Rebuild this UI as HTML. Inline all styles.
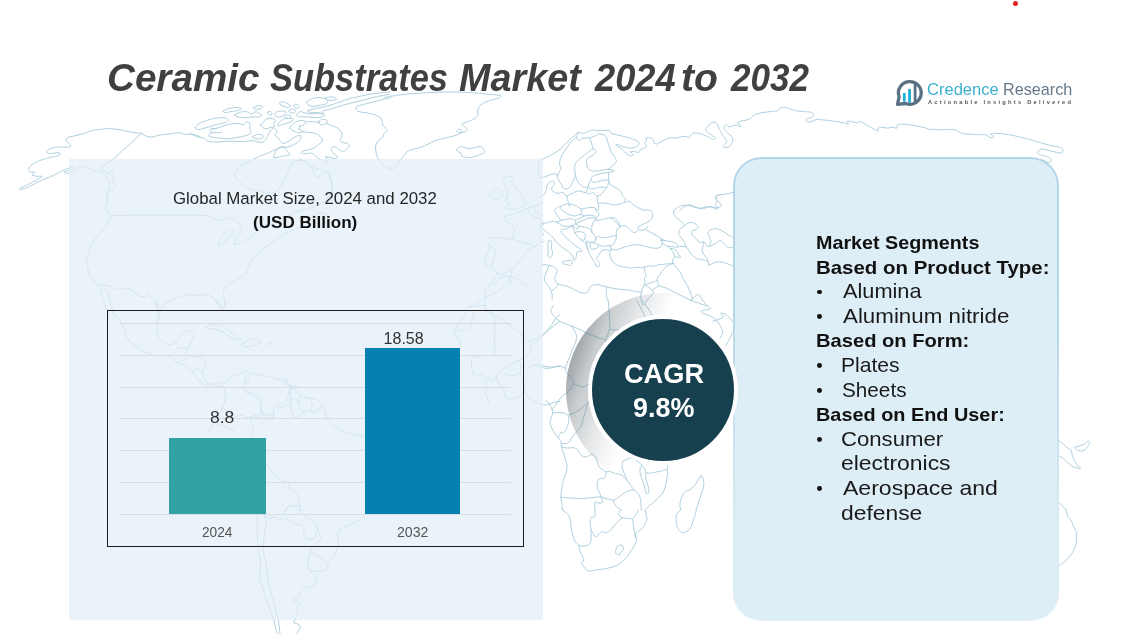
<!DOCTYPE html>
<html lang="en"><head><meta charset="utf-8"><title>Ceramic Substrates Market 2024 to 2032</title>
<style>
html,body{margin:0;padding:0;background:#fff}
body{width:1125px;height:634px;position:relative;overflow:hidden;font-family:"Liberation Sans",Arial,sans-serif}
.t{position:absolute;white-space:pre;transform-origin:0 0;display:block}
.abs{position:absolute}
#lp{left:68.5px;top:158.5px;width:474.5px;height:461.5px;background:rgba(226,239,247,0.72)}
#chart{left:107px;top:310px;width:414.6px;height:234.6px;border:1.2px solid #1e1e1e}
.gl{position:absolute;left:120px;width:390.5px;height:1px;background:#d9dee1}
#b1{left:169.2px;top:437.8px;width:96.4px;height:76.4px;background:#31a2a3}
#b2{left:364.8px;top:347.9px;width:94.8px;height:166.3px;background:#0580b2}
#rp{left:733.3px;top:157.7px;width:325.4px;height:463.3px;border-radius:28px;background:#deeef6;box-sizing:border-box}
#rpb{left:732.8px;top:157.2px;width:326.4px;height:464.3px;border-radius:28.5px;box-sizing:border-box;border:2px solid #b1d6e7;-webkit-mask-image:linear-gradient(to bottom,#000 0%,#000 30%,rgba(0,0,0,.55) 55%,rgba(0,0,0,.12) 80%,rgba(0,0,0,0) 95%);mask-image:linear-gradient(to bottom,#000 0%,#000 30%,rgba(0,0,0,.55) 55%,rgba(0,0,0,.12) 80%,rgba(0,0,0,0) 95%)}
#cres{left:566.4px;top:292.5px;width:194px;height:194px;border-radius:50%;background:linear-gradient(110deg,rgba(90,102,110,.62) 8%,rgba(90,102,110,.52) 13%,rgba(90,102,110,.33) 19%,rgba(90,102,110,.24) 25%,rgba(90,102,110,.15) 30%,rgba(90,102,110,.07) 36%,rgba(90,102,110,0) 42%)}
#circ{left:588.4px;top:314.5px;width:150px;height:150px;border-radius:50%;background:#17404f;border:4px solid #fff;box-sizing:border-box}
.bu{position:absolute;left:817.4px;width:4.8px;height:4.8px;border-radius:50%;background:#111}
#dot{left:1013.4px;top:0.8px;width:5px;height:5px;border-radius:50%;background:#e51c1c}
</style></head><body>
<svg class="abs" id="map" style="left:0;top:0" width="1125" height="634" viewBox="0 0 1125 634" fill="none" stroke="#a5c9da" stroke-width="0.9" stroke-linejoin="round" stroke-linecap="round">
<path d="M141.3 133.2C139.8 133.1 134.8 132.8 131.6 132.3C128.3 131.8 124.4 130.6 120.9 130.0C117.3 129.4 112.7 128.7 109.3 128.6C105.9 128.5 102.3 129.2 99.6 129.5C96.9 129.8 95.0 129.9 92.4 130.5C89.9 131.2 86.4 132.7 83.6 133.6C80.7 134.4 77.2 135.2 74.7 135.9C72.1 136.5 68.9 136.9 67.6 137.6C66.2 138.4 65.8 139.8 66.1 140.7C66.4 141.6 68.6 142.5 69.3 143.3C70.1 144.2 71.0 145.4 70.8 146.0C70.5 146.6 69.2 147.1 67.6 147.2C65.9 147.4 62.7 146.8 60.4 146.9C58.2 147.0 55.3 147.3 53.3 147.8C51.3 148.3 49.1 149.3 48.0 150.1C46.9 150.9 46.2 152.0 46.6 152.6C47.0 153.1 48.9 153.6 50.7 153.6C52.5 153.6 56.2 152.5 57.8 152.6C59.3 152.6 60.6 153.4 60.4 154.0C60.3 154.6 58.6 155.6 56.9 156.1C55.2 156.7 52.3 156.9 49.8 157.6C47.2 158.2 43.3 159.4 40.9 160.2C38.5 161.1 36.4 161.9 34.7 162.9C33.0 163.9 31.2 165.3 30.2 166.4C29.2 167.6 28.3 169.1 28.4 170.0C28.6 170.9 30.1 171.8 31.1 172.1C32.1 172.5 34.5 171.7 34.7 172.1C34.8 172.6 31.7 174.3 32.0 175.0C32.3 175.6 34.9 176.0 36.4 176.2C38.0 176.4 41.2 175.9 41.8 176.2C42.3 176.5 41.8 176.9 40.0 178.0C38.2 179.1 32.9 181.9 30.2 183.3C27.5 184.8 24.8 186.0 23.1 186.9C21.4 187.7 19.8 188.2 19.6 188.7C19.3 189.1 19.9 189.8 21.3 189.6C22.8 189.3 26.2 187.9 28.4 186.9C30.7 185.9 33.3 184.5 35.6 183.3C37.8 182.2 40.4 180.8 42.7 179.8C44.9 178.8 47.5 178.1 49.8 177.1C52.1 176.1 54.6 174.7 56.9 173.6C59.2 172.4 61.7 171.0 64.0 170.0C66.3 169.0 69.4 167.9 71.1 167.3C72.8 166.8 74.4 166.3 74.7 166.4C75.0 166.6 73.9 167.6 72.9 168.2C71.9 168.8 69.8 169.7 68.4 170.4C67.1 171.0 64.6 171.6 64.4 172.1C64.1 172.6 65.6 173.6 66.7 173.6C67.7 173.6 69.5 172.8 71.1 172.1C72.7 171.4 74.7 170.0 76.4 169.1C78.2 168.2 80.1 166.6 81.8 166.4C83.5 166.2 85.4 167.4 87.1 167.9C88.8 168.4 90.9 169.2 92.4 169.6C94.0 170.1 95.5 170.5 96.9 170.9C98.3 171.3 100.1 171.4 101.3 172.1C102.6 172.8 104.0 174.3 104.9 175.3C105.7 176.4 106.0 177.8 106.7 178.9C107.3 180.0 108.4 181.2 108.8 182.4C109.2 183.7 109.4 185.5 109.3 186.9C109.2 188.3 108.4 189.8 108.1 191.3C107.7 192.9 107.4 195.3 107.2 196.7C107.0 198.1 106.8 199.5 106.7 200.0 M141.3 133.2C140.6 133.9 138.7 135.9 136.9 137.6C135.0 139.4 132.1 142.2 129.8 144.2C127.5 146.3 125.2 148.2 122.7 150.4C120.1 152.7 116.3 156.3 113.8 158.4C111.2 160.6 108.7 162.2 106.7 163.8C104.6 165.3 101.7 167.2 101.0 168.2C100.3 169.3 101.6 169.8 102.2 170.4C102.8 170.9 104.0 170.9 104.9 171.4C105.7 171.9 106.7 173.4 107.6 173.6C108.4 173.7 109.4 172.6 110.2 172.1C111.1 171.7 112.3 170.7 112.9 170.9C113.5 171.1 113.9 172.3 113.8 173.6C113.7 174.8 112.4 177.5 112.4 178.9C112.4 180.3 113.3 181.2 113.8 182.4C114.2 183.7 115.5 185.7 115.2 186.9C114.9 188.1 112.9 189.1 112.0 189.9C111.1 190.7 109.8 191.4 109.3 191.7 M141.3 133.2C142.0 133.6 144.1 135.2 145.8 135.9C147.5 136.5 150.0 137.2 152.0 137.1C154.0 137.0 156.1 135.8 158.2 135.3C160.4 134.9 163.1 134.7 165.3 134.4C167.6 134.2 170.2 133.8 172.4 133.6C174.7 133.3 177.6 132.5 179.6 132.7C181.5 132.8 182.9 134.2 184.9 134.4C186.9 134.7 189.6 133.7 192.0 134.1C194.4 134.4 198.7 136.2 200.0 136.6 M195.3 127.3C195.9 126.8 197.2 124.9 198.9 123.8C200.6 122.7 203.4 121.4 206.0 120.6C208.6 119.7 212.0 118.9 214.9 118.4C217.7 118.0 221.6 117.4 223.8 117.6C225.9 117.7 227.8 118.6 228.2 119.3C228.6 120.0 227.7 121.3 226.4 122.0C225.2 122.7 222.4 123.2 220.2 123.8C218.1 124.3 215.4 124.9 213.1 125.6C210.8 126.2 208.1 127.1 206.0 127.7C203.9 128.3 201.3 129.2 199.8 129.5C198.2 129.7 196.9 129.5 196.2 129.1C195.5 128.8 195.5 127.6 195.3 127.3 M208.7 135.3C209.1 134.9 211.0 133.5 211.3 132.7C211.6 131.8 209.6 130.7 210.4 130.0C211.3 129.3 214.5 128.9 216.7 128.2C218.8 127.5 221.5 126.2 223.8 125.6C226.1 124.9 228.6 124.5 230.9 124.1C233.2 123.8 236.0 123.3 238.0 123.4C240.0 123.5 241.9 124.9 243.3 124.7C244.8 124.4 245.8 122.1 246.9 122.0C248.0 121.9 249.7 122.8 250.1 123.8C250.5 124.8 249.4 126.8 249.6 128.2C249.8 129.6 251.8 131.5 251.3 132.7C250.9 133.8 248.5 134.7 246.9 135.3C245.3 136.0 243.5 136.2 241.6 136.6C239.6 137.0 236.7 137.6 234.4 138.0C232.2 138.4 229.6 138.9 227.3 138.9C225.1 138.9 222.2 138.2 220.2 138.0C218.2 137.8 216.6 137.9 214.9 137.6C213.2 137.4 210.6 136.9 209.6 136.6C208.6 136.2 208.8 135.5 208.7 135.3 M211.0 128.2 L216.7 128.6 M210.4 132.7 L221.1 132.7 M190.0 133.6C191.1 134.0 194.8 135.8 197.1 136.6C199.4 137.3 202.4 137.6 204.2 138.4C206.1 139.2 206.7 141.0 208.7 141.6C210.7 142.1 214.0 141.9 216.7 141.9C219.4 141.9 222.7 141.7 225.6 141.6C228.4 141.4 231.6 141.2 234.4 141.2C237.3 141.2 240.5 141.6 243.3 141.6C246.2 141.5 249.4 140.5 252.2 140.7C255.1 140.8 259.0 142.6 261.1 142.4C263.2 142.3 264.4 141.1 265.6 139.8C266.7 138.5 267.4 136.0 268.2 134.4C269.1 132.9 269.9 131.0 270.9 130.0C271.9 129.0 273.4 127.9 274.4 128.2C275.4 128.5 277.0 130.6 277.1 131.8C277.3 132.9 275.0 134.2 275.3 135.3C275.6 136.5 277.8 137.6 278.9 138.9C280.0 140.2 281.0 142.9 282.4 143.3C283.9 143.8 285.8 142.6 287.8 141.6C289.8 140.6 293.0 138.1 294.9 137.1C296.7 136.1 298.3 135.3 299.3 135.3C300.3 135.3 301.3 136.1 301.1 137.1C301.0 138.1 299.7 140.3 298.4 141.6C297.2 142.8 295.0 144.2 293.1 145.1C291.3 146.0 288.9 146.9 286.9 147.2C284.9 147.6 282.5 146.9 280.7 147.2C278.8 147.6 277.0 148.8 275.3 149.6C273.6 150.4 271.7 151.5 270.0 152.2C268.3 153.0 266.7 153.6 264.7 154.4C262.7 155.2 259.8 156.2 257.6 157.2C255.3 158.2 252.7 159.6 250.4 160.8C248.2 161.9 245.4 163.1 243.3 164.3C241.3 165.6 239.1 167.1 237.6 168.6C236.2 170.1 234.7 172.0 234.4 173.6C234.2 175.1 235.2 176.6 236.2 178.0C237.2 179.4 239.2 181.0 240.7 182.4C242.1 183.9 243.3 185.8 245.1 186.9C247.0 188.0 249.7 188.8 252.2 189.6C254.8 190.3 258.6 190.8 261.1 191.3C263.7 191.9 265.9 193.0 268.2 193.1C270.5 193.3 273.5 193.1 275.3 192.2C277.2 191.4 278.5 189.3 279.8 187.8C281.1 186.2 282.3 184.2 283.3 182.4C284.3 180.7 285.1 178.8 286.0 177.1C286.9 175.4 288.0 173.5 288.7 171.8C289.4 170.1 289.7 168.0 290.4 166.4C291.2 164.9 291.8 163.0 293.1 162.0C294.4 161.0 296.5 160.4 298.4 160.2C300.4 160.1 303.8 160.4 305.6 161.1C307.3 161.8 308.0 163.2 309.1 164.7C310.2 166.1 311.8 168.4 312.7 170.0C313.5 171.6 313.6 173.3 314.4 174.4C315.3 175.6 316.7 177.0 318.0 177.1C319.3 177.3 321.3 176.2 322.4 175.3C323.6 174.5 324.1 172.5 325.1 171.8C326.1 171.1 327.8 170.3 328.7 170.9C329.5 171.5 330.0 173.5 330.4 175.3C330.9 177.2 331.0 180.5 331.3 182.4C331.6 184.4 331.8 186.1 332.2 187.8C332.6 189.5 333.4 191.1 334.0 193.1C334.6 195.1 335.5 198.9 335.8 200.0 M252.6 136.6C253.4 136.2 255.9 134.6 257.6 134.4C259.2 134.2 262.0 134.8 262.9 135.3C263.8 135.8 264.0 137.1 263.2 137.6C262.5 138.2 260.0 138.8 258.4 138.9C256.9 139.0 254.6 138.7 253.6 138.4C252.7 138.0 252.7 136.9 252.6 136.6 M222.9 111.0C223.7 110.6 226.1 109.2 228.2 108.7C230.4 108.1 234.1 107.5 236.2 107.4C238.3 107.4 240.9 108.0 241.2 108.5C241.5 109.0 239.6 109.9 238.0 110.4C236.4 111.0 233.0 111.3 230.9 111.7C228.8 112.0 225.9 112.7 224.7 112.6C223.4 112.5 223.2 111.2 222.9 111.0 M234.4 114.9C235.3 114.5 237.8 112.7 239.8 112.2C241.8 111.7 245.0 111.4 246.9 111.7C248.7 112.0 249.9 114.0 251.3 114.0C252.8 114.0 254.6 111.8 255.8 111.7C256.9 111.5 257.4 112.6 258.4 113.1C259.4 113.6 261.9 114.3 262.0 114.9C262.1 115.5 260.9 116.7 259.3 117.0C257.8 117.4 254.5 116.9 252.2 117.0C249.9 117.1 247.4 117.6 245.1 117.6C242.8 117.6 239.7 117.4 238.0 117.0C236.3 116.6 235.0 115.2 234.4 114.9 M253.6 107.8C254.1 107.5 255.5 106.3 256.7 106.0C257.9 105.7 260.2 105.4 261.1 105.6C262.0 105.9 262.8 106.9 262.5 107.4C262.2 108.0 260.6 108.7 259.3 109.0C258.1 109.3 255.8 109.4 254.9 109.2C254.0 109.0 253.8 108.0 253.6 107.8 M267.7 112.2C268.1 112.1 269.3 111.2 270.0 111.3C270.7 111.5 272.0 112.5 272.1 113.1C272.3 113.7 271.5 114.7 270.9 114.9C270.3 115.0 268.7 114.4 268.2 114.0C267.7 113.6 267.8 112.5 267.7 112.2 M274.8 114.0C275.2 113.6 275.9 112.2 277.1 111.7C278.3 111.2 281.0 110.9 282.4 111.0C283.9 111.1 285.7 111.6 286.0 112.2C286.3 112.8 285.2 114.1 284.2 114.9C283.2 115.7 281.1 116.7 279.8 117.0C278.5 117.3 277.0 117.2 276.2 116.7C275.4 116.2 275.0 114.4 274.8 114.0 M279.8 102.8C280.2 102.6 281.3 101.5 282.4 101.6C283.6 101.6 285.6 102.7 286.9 103.3C288.2 104.0 290.2 104.9 290.4 105.6C290.7 106.4 289.7 107.7 288.7 107.8C287.7 107.9 285.5 106.8 284.2 106.4C282.9 105.9 281.4 105.7 280.7 105.1C280.0 104.5 279.9 103.2 279.8 102.8 M293.5 105.6C293.8 105.4 294.9 104.2 295.8 104.2C296.6 104.2 298.4 105.1 298.8 105.6C299.2 106.2 299.0 107.4 298.4 107.8C297.9 108.1 296.0 108.1 295.2 107.8C294.4 107.4 293.8 106.0 293.5 105.6 M289.0 111.0C289.5 110.7 291.1 109.3 292.2 109.2C293.3 109.1 295.5 109.9 295.8 110.4C296.1 111.0 294.9 112.4 294.0 112.8C293.1 113.1 291.2 113.0 290.4 112.8C289.6 112.5 289.2 111.3 289.0 111.0 M284.6 116.7C285.0 116.4 286.4 114.9 287.4 114.9C288.4 114.8 290.6 115.7 291.0 116.3C291.3 116.9 290.4 118.1 289.6 118.4C288.8 118.8 286.8 118.7 286.0 118.4C285.2 118.2 284.8 117.0 284.6 116.7 M260.2 124.7C260.8 124.2 262.8 122.9 263.8 122.0C264.8 121.1 265.2 119.4 266.4 118.8C267.7 118.2 270.4 118.2 271.8 118.4C273.2 118.7 275.0 119.4 275.3 120.2C275.6 121.1 273.6 122.8 273.6 123.8C273.5 124.8 275.4 125.9 275.0 126.4C274.6 127.0 272.3 127.0 270.9 127.3C269.5 127.7 267.7 128.7 266.4 128.8C265.2 128.8 263.9 128.3 262.9 127.7C261.9 127.0 260.6 125.2 260.2 124.7 M277.5 124.7C278.0 124.1 279.3 122.1 280.7 121.1C282.0 120.1 284.2 118.8 286.0 118.4C287.8 118.1 291.1 118.5 292.2 118.8C293.4 119.1 293.8 119.9 293.1 120.6C292.4 121.2 289.5 122.2 287.8 122.9C286.1 123.5 283.9 124.2 282.4 124.7C281.0 125.1 279.7 125.6 278.9 125.6C278.1 125.6 277.7 124.8 277.5 124.7 M306.4 102.4C307.2 101.9 309.0 100.0 310.9 99.2C312.7 98.4 315.7 97.5 318.0 97.5C320.3 97.4 323.5 98.2 325.1 98.9C326.7 99.5 327.8 100.7 327.8 101.6C327.8 102.4 326.7 103.6 325.1 104.2C323.5 104.9 320.0 105.3 318.0 105.6C316.0 106.0 314.2 106.4 312.7 106.4C311.1 106.3 309.2 105.7 308.2 105.1C307.2 104.5 306.7 102.9 306.4 102.4 M325.1 98.0C326.2 97.8 330.4 96.6 332.2 96.8C334.1 96.9 336.7 98.3 336.7 98.9C336.7 99.5 333.8 100.2 332.2 100.3C330.7 100.5 328.0 100.1 326.9 99.8C325.8 99.4 325.4 98.3 325.1 98.0 M308.2 110.4C309.2 110.2 312.3 109.2 314.4 108.7C316.6 108.2 319.0 108.0 321.6 107.4C324.1 106.9 327.3 106.0 330.4 105.1C333.6 104.2 338.0 102.6 341.1 101.6C344.2 100.5 346.9 99.4 350.0 98.5C353.1 97.7 357.3 97.0 360.7 96.2C364.1 95.5 367.9 94.5 371.3 93.9C374.7 93.3 379.0 93.0 382.0 92.7C385.0 92.3 388.7 91.9 390.0 91.8 M308.2 110.4C308.4 110.7 307.5 111.9 309.1 112.2C310.7 112.6 315.7 112.5 318.0 112.8C320.3 113.0 322.6 114.2 323.3 114.0C324.0 113.8 321.6 112.0 322.4 111.3C323.3 110.6 326.2 110.3 328.7 109.6C331.1 108.8 334.7 107.7 337.6 106.9C340.4 106.0 343.6 105.0 346.4 104.2C349.3 103.5 352.5 102.8 355.3 102.1C358.2 101.4 361.1 100.6 364.2 99.8C367.4 99.0 371.5 97.9 374.9 97.1C378.3 96.3 383.1 95.4 385.6 95.0C388.0 94.6 389.3 94.5 390.0 94.4 M296.3 114.9C296.9 114.4 298.7 112.0 300.2 111.7C301.7 111.4 303.6 112.7 305.6 113.1C307.5 113.5 310.4 114.0 312.7 114.0C314.9 114.0 317.9 113.0 319.8 113.1C321.6 113.3 323.9 114.3 324.2 114.9C324.5 115.5 323.1 116.6 321.6 117.0C320.0 117.4 317.0 117.6 314.4 117.6C311.9 117.5 308.0 116.8 305.6 116.7C303.1 116.5 300.8 117.0 299.3 116.7C297.9 116.4 296.8 115.2 296.3 114.9 M289.6 128.2C290.0 127.7 291.1 125.7 292.2 124.7C293.4 123.6 295.1 122.4 296.7 121.6C298.2 120.9 300.6 120.2 302.0 120.2C303.4 120.3 305.3 121.3 305.6 122.0C305.8 122.7 304.6 124.0 303.8 124.7C302.9 125.4 300.9 125.7 300.2 126.4C299.5 127.2 298.8 128.3 299.3 129.1C299.9 130.0 301.9 131.2 303.8 131.8C305.6 132.3 308.9 132.4 310.9 132.7C312.9 133.0 314.7 132.8 316.2 133.6C317.8 134.3 319.7 136.0 320.7 137.1C321.7 138.2 322.7 139.5 322.4 140.7C322.2 141.8 320.2 143.1 318.9 144.2C317.6 145.4 316.0 146.9 314.4 147.8C312.9 148.6 310.8 149.1 309.1 149.6C307.4 150.0 305.1 150.3 303.8 150.8C302.5 151.3 301.0 152.1 301.1 152.6C301.3 153.1 303.1 153.9 304.7 154.0C306.2 154.1 309.3 153.0 310.9 153.1C312.5 153.3 313.3 154.0 314.4 154.9C315.6 155.7 316.7 157.6 318.0 158.4C319.3 159.3 321.0 159.5 322.4 160.2C323.9 160.9 326.3 163.2 326.9 162.9C327.5 162.6 325.9 159.4 326.0 158.4C326.1 157.5 327.5 157.4 327.8 157.2 M289.6 128.2C290.3 128.7 292.4 130.5 294.0 131.2C295.6 132.0 297.8 132.6 299.3 132.7C300.9 132.8 303.1 131.9 303.8 131.8 M299.9 124.7 L299.3 129.1 M318.9 121.1C319.5 120.8 321.2 119.4 322.4 119.3C323.7 119.2 326.2 119.9 326.9 120.6C327.5 121.2 327.2 122.8 326.5 123.4C325.8 124.1 323.6 124.6 322.4 124.7C321.3 124.7 320.0 124.3 319.4 123.8C318.9 123.2 319.0 121.5 318.9 121.1 M305.6 122.0C306.7 121.9 310.5 121.6 312.7 121.6C314.8 121.7 317.9 122.2 318.9 122.4 M326.9 123.8C327.7 124.1 330.5 124.8 332.2 125.6C333.9 126.3 336.1 127.2 337.6 128.2C339.0 129.2 340.4 130.5 341.1 131.8C341.8 133.1 342.1 134.9 342.0 136.2C341.9 137.5 340.1 138.8 340.2 139.8C340.4 140.8 341.8 141.9 342.9 142.4C344.0 143.0 346.3 142.8 347.3 143.3C348.3 143.9 349.3 145.0 349.1 146.0C349.0 147.0 347.4 148.7 346.4 149.6C345.4 150.4 344.0 151.3 342.9 151.3C341.8 151.3 340.5 150.3 339.3 149.6C338.2 148.8 336.9 147.3 335.8 146.9C334.6 146.5 332.9 146.7 332.2 147.2C331.5 147.8 331.0 149.4 331.3 150.4C331.6 151.5 333.0 153.0 334.0 154.0C335.0 155.0 337.3 156.0 337.6 156.7C337.8 157.4 336.9 158.3 335.8 158.4C334.6 158.6 332.2 157.8 330.4 157.6C328.7 157.3 326.0 156.8 325.1 156.7 M273.6 157.6C273.8 156.7 274.5 153.8 275.3 152.2C276.2 150.7 277.5 148.6 278.9 147.8C280.3 146.9 282.9 146.5 284.2 146.9C285.5 147.3 286.0 149.2 286.9 150.4C287.7 151.7 290.3 154.0 289.6 154.9C288.8 155.8 284.4 155.7 282.4 156.1C280.5 156.6 278.5 157.3 277.1 157.6C275.7 157.8 274.1 157.6 273.6 157.6 M390.0 98.0C388.7 98.3 384.7 99.1 382.0 99.8C379.3 100.4 376.0 101.4 373.1 102.1C370.3 102.8 366.9 103.5 364.2 104.2C361.5 105.0 357.2 105.8 356.2 106.9C355.2 108.0 356.4 110.4 358.0 111.3C359.6 112.3 363.3 112.2 366.0 112.8C368.7 113.3 372.5 114.0 374.9 114.9C377.3 115.8 379.8 116.9 381.1 118.4C382.4 120.0 382.2 123.1 382.9 124.7C383.6 126.2 384.8 127.2 385.6 128.2C386.3 129.2 387.6 130.0 387.3 130.9C387.0 131.7 384.5 132.6 383.8 133.6C383.1 134.6 383.7 136.0 382.9 137.1C382.0 138.2 379.6 139.4 378.4 140.7C377.3 141.9 376.2 143.4 375.8 145.1C375.4 146.8 375.5 149.3 375.8 151.3C376.1 153.3 376.7 155.7 377.6 157.6C378.4 159.4 379.8 161.5 381.1 162.9C382.4 164.3 384.1 165.4 385.6 166.4C387.0 167.4 389.3 168.7 390.0 169.1 M383.6 97.8C384.7 97.6 387.7 96.9 390.7 96.4C393.6 95.9 398.3 95.1 402.0 94.6C405.8 94.2 409.8 93.9 414.0 93.6C418.1 93.2 423.5 92.9 428.0 92.7C432.5 92.4 436.9 92.2 442.0 92.1C447.2 92.0 454.3 92.0 460.0 92.1C465.7 92.3 472.9 92.8 477.8 93.2C482.6 93.6 486.5 94.0 490.2 94.4C493.9 94.8 499.5 95.1 500.9 95.7C502.3 96.3 500.5 97.3 499.1 98.0C497.7 98.7 494.3 99.1 492.0 99.8C489.7 100.5 486.9 101.4 484.9 102.4C482.9 103.4 480.6 105.0 479.6 106.0C478.6 107.0 479.0 107.8 478.7 108.7C478.3 109.5 477.5 110.3 477.4 111.3C477.3 112.3 478.5 113.8 478.1 114.9C477.8 116.0 476.6 117.4 475.1 118.4C473.6 119.4 470.7 120.4 468.9 121.1C467.0 121.8 464.7 122.3 463.6 122.9C462.4 123.5 461.5 124.0 461.8 124.7C462.1 125.4 464.5 126.5 465.3 127.3C466.2 128.2 467.4 129.2 467.1 130.0C466.8 130.8 465.0 131.9 463.6 132.3C462.1 132.7 459.3 132.6 458.2 132.3C457.1 132.0 456.7 131.0 456.8 130.5C456.9 130.0 458.3 128.9 459.1 129.1C460.0 129.3 462.3 130.9 462.1 131.8C462.0 132.6 460.0 133.7 458.2 134.4C456.5 135.2 453.7 135.9 451.1 136.6C448.6 137.3 444.8 138.2 442.2 138.9C439.7 139.5 437.4 139.8 435.1 140.7C432.8 141.5 430.3 143.2 428.0 144.2C425.7 145.3 422.9 146.5 420.9 147.2C418.9 148.0 417.3 148.2 415.6 148.7C413.8 149.1 411.6 149.5 410.2 150.1C408.8 150.7 407.8 151.2 406.7 152.2C405.5 153.3 404.2 155.2 403.1 156.7C402.0 158.1 400.6 159.7 399.6 161.1C398.6 162.5 397.9 164.4 396.9 165.6C395.9 166.8 394.6 168.3 393.3 168.6C392.1 168.9 389.6 167.5 388.9 167.3 M456.4 149.6C456.9 149.2 458.0 147.7 459.1 147.2C460.2 146.8 462.1 146.7 463.6 146.9C465.0 147.1 466.3 148.5 468.0 148.7C469.7 148.8 472.2 148.1 474.2 147.8C476.2 147.4 479.0 146.4 480.4 146.5C481.9 146.7 482.5 147.8 483.1 148.7C483.8 149.5 484.8 151.0 484.5 151.9C484.2 152.8 482.7 153.7 481.3 154.4C480.0 155.0 477.7 155.6 476.0 156.1C474.3 156.6 472.4 157.4 470.7 157.6C469.0 157.7 466.8 157.4 465.3 157.2C463.9 157.0 462.5 156.8 461.8 156.1C461.1 155.5 461.5 153.8 460.9 153.1C460.3 152.4 458.9 152.4 458.2 151.9C457.5 151.3 456.7 149.9 456.4 149.6 M540.0 160.2C539.8 160.9 539.0 163.1 538.8 164.7C538.5 166.2 538.0 168.3 538.2 170.0C538.4 171.7 539.6 174.1 540.0 175.3C540.4 176.5 540.7 177.1 540.9 177.5 M504.4 178.0C504.9 177.7 506.1 176.4 507.1 176.2C508.1 176.0 509.8 176.3 510.7 176.8C511.5 177.2 512.4 178.1 512.4 178.9C512.4 179.7 510.5 180.8 510.7 181.6C510.8 182.3 512.6 182.5 513.3 183.3C514.0 184.2 514.4 185.9 515.1 186.9C515.8 187.9 517.1 188.6 517.8 189.6C518.5 190.6 518.8 192.0 519.6 193.1C520.3 194.2 521.5 195.6 522.2 196.7C522.9 197.8 523.7 199.5 524.0 200.0 M504.4 178.0C504.3 178.6 503.4 180.6 503.6 181.6C503.7 182.6 505.2 183.2 505.3 184.2C505.5 185.2 504.2 186.8 504.4 187.8C504.7 188.8 506.5 189.4 507.1 190.4C507.7 191.4 508.1 193.0 508.0 194.0C507.9 195.0 506.1 195.7 506.2 196.7C506.4 197.6 508.5 199.5 508.9 200.0 M493.8 189.6C494.3 189.4 496.2 188.5 497.3 188.7C498.5 188.8 500.0 189.7 500.9 190.4C501.7 191.2 502.5 192.1 502.7 193.1C502.8 194.1 502.3 195.8 501.8 196.7C501.2 197.6 500.1 198.4 499.1 198.8C498.1 199.2 496.8 199.5 495.6 199.3C494.3 199.1 492.1 198.3 491.1 197.6C490.1 196.8 489.3 195.7 489.3 194.9C489.3 194.0 490.4 193.1 491.1 192.2C491.8 191.4 493.4 190.0 493.8 189.6 M540.0 160.4C541.1 159.9 544.8 158.0 547.1 156.9C549.4 155.8 551.9 154.8 554.2 153.3C556.5 151.9 559.1 150.0 561.3 148.0C563.6 146.0 566.2 143.0 568.4 140.9C570.7 138.8 574.0 136.0 575.6 134.7C577.1 133.3 577.1 132.6 578.2 132.4C579.4 132.2 581.1 133.5 582.7 133.4C584.2 133.3 586.4 132.2 588.0 131.6C589.6 131.1 590.7 130.0 592.4 129.9C594.2 129.7 596.7 130.5 598.7 130.6C600.7 130.6 603.0 130.1 604.9 130.2C606.7 130.3 609.2 130.6 610.2 131.1C611.2 131.6 610.1 132.9 611.1 133.4C612.1 134.0 614.5 134.2 616.4 134.7C618.4 135.2 621.3 135.9 623.6 136.4C625.8 137.0 628.7 137.6 630.7 138.2C632.7 138.9 634.6 139.8 636.0 140.5C637.4 141.2 638.9 141.8 639.2 142.7C639.5 143.5 638.6 145.1 637.8 145.9C637.0 146.7 635.6 147.3 634.2 147.6C632.8 148.0 630.7 148.2 628.9 148.0C627.0 147.8 624.4 147.1 622.7 146.6C621.0 146.1 619.4 145.1 618.2 144.8C617.1 144.5 615.6 144.5 615.6 144.8C615.6 145.1 617.2 145.9 618.2 146.6C619.2 147.2 620.8 148.1 621.8 148.9C622.8 149.7 623.6 150.7 624.4 151.6C625.3 152.4 626.1 153.5 627.1 154.2C628.1 154.9 629.7 156.0 630.7 156.0C631.7 156.0 633.5 154.9 633.3 154.2C633.2 153.6 629.6 152.3 629.8 151.9C629.9 151.5 632.8 151.5 634.2 151.6C635.6 151.6 637.7 152.7 638.7 152.4C639.7 152.2 639.6 150.4 640.4 149.8C641.3 149.1 643.0 148.9 644.0 148.4C645.0 147.8 646.5 147.3 646.7 146.6C646.8 145.8 644.9 144.6 644.9 143.6C644.9 142.5 646.5 140.9 646.7 140.0C646.8 139.1 645.4 138.6 645.8 138.2C646.2 137.9 648.2 137.5 649.3 137.7C650.5 137.8 652.2 138.3 652.9 139.1C653.6 139.9 653.2 141.9 653.8 142.7C654.3 143.5 655.4 144.1 656.4 144.1C657.4 144.0 658.7 143.0 660.0 142.3C661.3 141.7 662.9 140.7 664.4 140.0C666.0 139.3 668.1 138.0 669.8 137.7C671.5 137.4 673.4 138.3 675.1 138.2C676.8 138.1 678.7 137.3 680.4 137.0C682.2 136.7 684.4 136.3 685.8 136.4C687.2 136.6 688.5 138.0 689.3 137.7C690.2 137.4 690.3 135.4 691.1 134.7C692.0 133.9 693.2 133.0 694.7 132.9C696.1 132.7 698.3 133.4 700.0 133.8C701.7 134.2 703.6 134.8 705.3 135.6C707.0 136.3 709.4 137.6 710.7 138.2C711.9 138.8 712.6 139.6 713.3 139.5C714.0 139.4 715.4 138.4 715.1 137.7C714.8 137.0 712.8 136.1 711.6 135.2C710.3 134.3 708.1 132.9 707.1 132.0C706.1 131.1 705.2 130.2 705.3 129.3C705.5 128.5 707.1 127.7 708.0 126.7C708.9 125.7 709.5 123.8 710.7 123.1C711.8 122.4 714.0 121.9 715.1 122.2C716.2 122.5 717.2 124.0 717.8 124.9C718.3 125.8 718.2 127.1 718.7 128.1C719.1 129.1 719.9 130.1 720.4 131.1C721.0 132.2 721.5 133.5 722.2 134.7C722.9 135.8 724.2 137.1 724.9 138.2C725.6 139.4 726.7 140.8 726.7 141.8C726.7 142.8 725.5 143.7 724.9 144.4C724.3 145.2 723.0 146.1 723.1 146.6C723.3 147.1 724.8 147.6 725.8 147.6C726.8 147.6 728.3 147.4 729.3 146.6C730.3 145.8 731.4 143.9 732.0 142.7C732.6 141.4 733.0 139.9 732.9 138.8C732.7 137.6 731.8 136.4 731.1 135.6C730.4 134.8 729.3 134.5 728.4 133.8C727.6 133.1 726.5 132.1 725.8 131.1C725.1 130.1 724.0 128.6 724.0 127.6C724.0 126.5 725.1 124.7 725.8 124.5C726.5 124.4 727.4 126.4 728.4 126.7C729.4 127.0 730.9 126.5 732.0 126.3C733.1 126.1 734.3 125.2 735.6 125.2C736.8 125.2 739.3 126.1 740.0 126.3 M578.2 132.4C577.9 133.0 577.6 134.9 576.4 136.4C575.3 138.0 572.7 139.9 571.1 141.8C569.5 143.6 567.9 146.2 566.7 148.0C565.4 149.8 564.1 151.6 563.1 153.3C562.1 155.0 561.0 157.0 560.4 158.7C559.9 160.4 559.5 162.4 559.6 164.0C559.6 165.6 561.1 167.0 561.0 168.4C560.8 169.9 559.2 171.6 558.7 172.9C558.1 174.2 557.4 175.2 557.4 176.4C557.4 177.6 558.0 179.1 558.7 180.4C559.3 181.6 560.6 183.2 561.3 184.4C562.0 185.7 562.3 187.3 563.1 188.0C564.0 188.7 565.5 189.1 566.7 188.9C567.8 188.7 569.4 187.6 570.2 186.8C571.1 185.9 571.4 184.8 572.0 183.6C572.6 182.3 573.3 180.4 573.8 179.1C574.3 177.8 575.1 177.5 575.2 175.6C575.3 173.6 574.5 168.8 574.7 166.7C574.9 164.5 575.6 163.5 576.4 162.2C577.3 160.9 578.7 159.8 580.0 158.7C581.3 157.5 583.0 156.2 584.4 155.1C585.9 154.0 587.5 152.6 588.9 151.6C590.3 150.6 592.2 148.9 593.3 148.9C594.5 148.9 596.0 150.6 596.0 151.6C596.0 152.6 594.5 154.2 593.3 155.1C592.2 156.0 590.0 156.4 588.9 157.2C587.8 158.1 586.9 159.2 586.6 160.4C586.2 161.7 586.4 163.6 586.6 164.9C586.8 166.2 587.2 167.5 588.0 168.4C588.8 169.4 590.1 170.3 591.6 170.8C593.0 171.2 595.2 171.2 596.9 171.1C598.6 171.0 600.5 170.5 602.2 170.2C603.9 169.9 605.8 169.3 607.6 169.3C609.3 169.3 611.9 169.9 612.9 170.2C613.9 170.6 614.5 171.1 613.8 171.5C613.1 171.8 610.3 172.2 608.4 172.5C606.6 172.8 604.1 172.9 602.2 173.2C600.4 173.6 598.5 174.2 596.9 174.7C595.3 175.2 593.4 175.6 592.4 176.4C591.4 177.3 591.2 178.9 590.7 180.0C590.1 181.1 589.3 182.4 588.9 183.6C588.5 184.7 588.4 186.0 588.0 187.1C587.6 188.2 587.0 189.8 586.6 190.7C586.2 191.5 586.7 192.4 585.3 192.4C584.0 192.5 580.4 190.9 578.2 191.0C576.1 191.2 573.8 192.5 572.0 193.3C570.2 194.1 568.1 196.1 566.7 196.0C565.2 195.9 564.5 192.9 563.1 192.4C561.7 192.0 559.3 193.5 557.8 193.3C556.2 193.2 554.3 192.4 553.3 191.6C552.3 190.7 551.4 189.1 551.6 188.0C551.7 186.9 553.9 185.6 554.2 184.4C554.5 183.3 554.0 181.3 553.3 180.9C552.6 180.5 550.8 181.1 549.8 181.8C548.8 182.5 547.7 183.9 547.1 185.3C546.5 186.8 546.8 189.1 546.2 190.7C545.7 192.2 544.6 194.1 543.6 195.1C542.6 196.1 540.6 196.6 540.0 196.9 M575.2 175.6C575.4 176.0 576.0 177.2 576.4 178.2C576.9 179.3 577.5 181.0 578.2 182.1C578.9 183.3 579.9 184.5 580.9 185.3C581.9 186.2 583.4 187.2 584.4 187.5C585.4 187.7 586.7 186.9 587.1 186.8 M540.0 178.2C540.9 178.0 543.6 177.4 545.3 176.8C547.0 176.2 549.0 175.2 550.7 174.7C552.4 174.2 554.9 173.5 556.0 173.8C557.1 174.1 557.2 176.0 557.4 176.4 M582.7 138.2C583.8 138.1 587.6 138.1 589.8 137.7C591.9 137.3 594.6 136.2 596.0 135.6C597.4 134.9 597.8 134.0 598.7 133.8C599.5 133.6 600.3 133.9 601.3 134.1C602.3 134.4 604.0 134.5 604.9 135.2C605.7 135.9 606.2 137.2 606.7 138.2C607.1 139.3 607.1 140.5 607.6 141.8C608.0 143.1 608.8 144.7 609.3 146.2C609.9 147.8 610.4 150.0 611.1 151.6C611.8 153.1 612.9 154.6 613.8 156.0C614.6 157.4 616.3 159.2 616.4 160.4C616.6 161.7 615.5 162.9 614.7 164.0C613.8 165.1 612.1 166.3 611.1 167.2C610.1 168.1 608.9 169.0 608.4 169.3 M589.8 137.7C590.1 138.6 591.0 141.8 591.6 143.6C592.1 145.3 593.0 148.0 593.3 148.9 M582.7 138.2C582.0 138.6 579.2 140.8 578.2 140.5C577.2 140.2 576.7 137.1 576.4 136.4 M590.7 180.0C591.1 180.3 592.1 181.9 593.3 182.1C594.6 182.4 597.0 181.8 598.7 181.4C600.4 181.1 602.4 180.3 604.0 180.0C605.6 179.7 607.7 180.8 608.4 179.6C609.2 178.4 608.4 173.7 608.4 172.5 M588.0 187.1C588.4 187.4 589.2 188.7 590.7 188.9C592.1 189.0 595.0 188.3 596.9 188.0C598.7 187.7 600.7 187.2 602.2 187.1C603.8 187.0 605.7 188.0 606.7 187.5C607.7 186.9 608.2 184.8 608.4 183.6C608.7 182.3 608.0 179.4 608.4 179.6C608.9 179.9 609.8 184.0 611.1 185.3C612.4 186.7 615.0 187.1 616.4 188.0C617.9 188.9 619.0 189.4 620.0 190.7C621.0 191.9 621.8 194.7 622.7 196.0C623.5 197.3 625.0 197.7 625.3 198.7C625.6 199.7 623.9 201.8 624.4 202.2C625.0 202.6 627.6 201.0 628.9 201.3C630.2 201.6 631.3 203.1 632.4 204.0C633.6 204.9 634.9 206.0 636.0 206.7C637.1 207.4 638.4 207.9 639.6 208.4C640.7 209.0 642.5 209.8 643.1 210.0 M585.3 192.4C586.0 192.7 588.5 193.9 589.8 193.9C591.1 193.9 592.2 192.1 593.3 192.4C594.5 192.8 595.6 195.7 596.9 196.0C598.2 196.3 600.2 195.1 601.3 194.2C602.5 193.4 603.1 191.7 604.0 190.7C604.9 189.6 606.2 188.0 606.7 187.5 M596.9 196.0C597.0 196.9 597.5 199.6 597.8 201.3C598.1 203.0 598.6 205.3 598.7 206.7C598.8 208.1 598.4 209.5 598.3 210.0 M566.7 196.0C566.9 196.9 567.7 199.6 568.1 201.3C568.5 203.0 569.1 205.8 569.3 206.7 M598.7 203.1C599.8 203.1 603.5 202.8 605.8 203.1C608.1 203.4 610.6 204.7 612.9 204.9C615.2 205.0 618.2 204.4 620.0 204.0C621.8 203.6 623.7 202.5 624.4 202.2 M732.9 192.4C731.6 192.7 727.3 193.8 724.9 194.2C722.5 194.6 719.3 194.7 717.8 195.1C716.2 195.5 715.3 195.9 715.1 196.9C715.0 197.9 716.9 200.1 716.9 201.3C716.9 202.6 715.0 203.9 715.1 204.9C715.3 205.9 717.6 206.7 717.8 207.6C717.9 208.4 716.3 209.6 716.0 210.0 M680.4 210.0C681.0 209.5 682.6 207.5 684.0 206.7C685.4 205.8 687.6 204.9 689.3 204.9C691.0 204.9 693.0 206.1 694.7 206.7C696.4 207.2 698.0 208.4 700.0 208.4C702.0 208.4 705.1 206.8 707.1 206.7C709.1 206.5 711.0 207.2 712.4 207.6C713.9 207.9 715.4 208.6 716.0 208.8 M740.0 126.3C740.1 126.4 740.7 127.3 740.7 127.0C740.6 126.6 740.3 124.8 739.8 124.1C739.2 123.5 737.0 123.4 737.1 122.9C737.3 122.4 739.2 121.5 740.7 121.1C742.1 120.7 744.4 120.6 746.0 120.2C747.6 119.8 749.3 119.2 750.4 118.4C751.6 117.7 751.8 116.6 753.1 115.8C754.4 115.0 756.5 114.0 758.4 113.5C760.4 112.9 763.3 112.6 765.6 112.2C767.8 111.9 770.7 111.6 772.7 111.3C774.7 111.0 776.9 111.0 778.0 110.4C779.1 109.9 778.6 108.6 779.8 108.1C780.9 107.6 783.4 107.3 785.1 107.4C786.8 107.6 788.5 108.6 790.4 109.2C792.4 109.8 795.3 110.6 797.6 111.0C799.8 111.4 802.5 111.5 804.7 111.7C806.8 111.9 809.5 111.7 810.9 112.2C812.3 112.7 813.4 114.0 813.6 114.9C813.7 115.7 812.8 117.0 811.8 117.6C810.8 118.1 808.2 118.0 807.3 118.4C806.4 118.9 805.9 120.0 806.1 120.6C806.2 121.2 807.2 122.3 808.2 122.4C809.3 122.4 811.2 121.6 812.7 121.1C814.1 120.6 815.5 119.5 817.1 119.3C818.7 119.1 820.5 119.7 822.4 119.9C824.4 120.1 827.3 120.3 829.6 120.6C831.8 120.9 834.4 121.3 836.7 121.6C838.9 122.0 841.9 122.5 843.8 122.9C845.6 123.2 847.7 124.1 848.2 123.8C848.8 123.5 846.8 121.5 847.3 121.1C847.9 120.8 850.4 121.4 851.8 121.6C853.2 121.9 854.8 122.9 856.2 122.9C857.6 122.9 859.2 121.4 860.7 121.6C862.1 121.8 863.5 123.2 865.1 124.1C866.7 125.0 868.7 126.4 870.4 127.3C872.2 128.3 874.6 129.4 875.8 130.0C877.0 130.6 877.5 131.5 877.9 131.2C878.3 131.0 877.6 128.8 878.4 128.2C879.2 127.6 881.5 127.3 882.9 127.3C884.3 127.3 885.8 128.2 887.3 128.2C888.9 128.2 891.2 127.3 892.7 127.3C894.2 127.3 896.0 128.6 896.8 128.2C897.5 127.9 896.3 125.9 897.1 125.2C897.9 124.5 899.8 124.2 901.6 124.1C903.3 124.0 905.6 124.4 907.8 124.7C909.9 124.9 912.6 125.2 914.9 125.6C917.2 125.9 919.6 126.4 922.0 127.0C924.4 127.6 928.7 129.1 930.0 129.5 M930.0 129.5C930.3 129.5 930.3 129.3 932.1 129.3C933.9 129.4 938.2 129.9 941.0 129.9C943.8 129.9 947.3 129.2 949.9 129.3C952.4 129.4 955.2 129.9 957.0 130.6C958.8 131.2 959.5 132.9 961.4 133.4C963.4 134.0 966.7 133.9 969.4 134.1C972.1 134.3 975.8 134.6 978.3 134.7C980.9 134.8 983.6 134.2 985.4 134.7C987.3 135.1 988.6 136.8 989.9 137.3C991.2 137.8 993.0 138.0 993.4 137.7C993.9 137.4 993.0 136.2 992.6 135.6C992.1 134.9 989.9 134.1 990.4 133.8C991.0 133.4 993.8 133.4 996.1 133.4C998.4 133.5 1002.2 133.8 1005.0 134.1C1007.8 134.5 1011.0 135.0 1013.9 135.6C1016.7 136.1 1019.9 137.0 1022.8 137.7C1025.6 138.4 1028.8 139.2 1031.7 140.0C1034.5 140.8 1037.7 141.8 1040.6 142.7C1043.4 143.5 1046.9 144.7 1049.4 145.3C1052.0 146.0 1054.6 146.2 1056.6 146.6C1058.5 147.0 1060.9 147.2 1061.9 148.0C1062.9 148.8 1063.1 150.8 1062.8 151.6C1062.5 152.4 1061.4 152.9 1060.1 153.0C1058.8 153.0 1056.8 152.4 1054.8 151.9C1052.8 151.5 1049.8 150.5 1047.7 150.1C1045.5 149.7 1043.0 149.1 1041.4 149.4C1039.9 149.7 1038.3 151.1 1037.9 151.9C1037.5 152.7 1037.9 153.7 1038.8 154.2C1039.6 154.8 1041.7 155.0 1043.2 155.5C1044.8 156.0 1047.3 156.6 1048.6 157.2C1049.8 157.9 1050.9 158.8 1051.2 159.6C1051.5 160.4 1051.0 161.9 1050.3 162.2C1049.6 162.6 1048.1 162.3 1046.8 161.9C1045.5 161.4 1043.0 159.9 1042.3 159.6 M1059.0 440.4C1059.6 440.9 1061.8 442.8 1063.0 443.9C1064.2 445.0 1065.3 446.5 1066.5 447.4C1067.8 448.4 1069.8 448.5 1070.8 449.8C1071.7 451.1 1071.8 453.8 1072.4 455.7C1073.1 457.6 1073.9 459.9 1074.8 461.6C1075.8 463.3 1077.4 465.2 1078.3 466.3C1079.3 467.5 1080.9 468.4 1080.7 468.7C1080.5 469.0 1078.5 468.4 1077.2 468.0C1075.8 467.6 1074.0 467.2 1072.4 466.3C1070.9 465.5 1069.0 463.9 1067.7 462.8C1066.4 461.7 1065.6 460.4 1064.2 459.3C1062.8 458.1 1059.8 456.3 1059.0 455.7 M1074.8 447.4C1075.6 447.2 1078.0 446.3 1079.5 445.8C1081.0 445.3 1082.9 445.1 1084.3 444.4C1085.6 443.6 1086.9 441.3 1087.8 441.1C1088.7 440.8 1089.7 441.9 1089.7 442.7C1089.7 443.5 1088.6 445.1 1087.8 446.3C1087.0 447.4 1086.1 449.0 1085.0 449.8C1083.8 450.6 1082.1 451.0 1080.7 451.0C1079.4 451.0 1077.4 450.4 1076.5 449.8C1075.5 449.2 1075.1 447.8 1074.8 447.4 M1059.0 503.0C1059.6 503.5 1061.9 505.4 1063.0 506.5C1064.1 507.6 1065.3 508.5 1066.1 510.0C1066.8 511.6 1066.9 514.3 1067.7 516.0C1068.5 517.7 1070.3 519.0 1071.3 520.7C1072.2 522.4 1072.8 524.7 1073.6 526.6C1074.5 528.5 1076.1 530.8 1076.5 532.5C1076.8 534.2 1076.0 535.7 1076.0 537.2C1076.0 538.7 1076.6 540.2 1076.5 541.9C1076.3 543.6 1075.4 546.1 1074.8 547.8C1074.2 549.5 1073.4 551.1 1072.4 552.6C1071.5 554.1 1070.2 555.8 1068.9 557.3C1067.6 558.8 1065.8 560.7 1064.2 562.0C1062.6 563.3 1059.8 565.0 1059.0 565.6 M541.7 227.3C542.3 227.9 544.0 229.7 545.2 230.8C546.5 231.9 548.3 233.1 549.5 234.2C550.8 235.4 551.9 236.5 553.0 237.7C554.1 239.0 555.2 240.7 556.5 242.0C557.7 243.4 559.3 245.1 560.8 246.4C562.3 247.6 564.5 248.7 566.0 249.9C567.6 251.0 569.3 252.2 570.4 253.3C571.5 254.4 572.4 255.7 573.0 256.8C573.5 257.9 573.4 259.8 573.8 260.3C574.2 260.7 575.1 260.2 575.6 259.4C576.0 258.6 576.2 256.3 576.4 255.1C576.7 253.8 576.6 252.1 577.3 251.6C578.0 251.0 580.0 251.7 580.8 251.6C581.5 251.5 582.3 251.3 582.0 250.7C581.7 250.2 580.2 249.0 579.0 248.1C577.9 247.2 576.1 246.3 574.7 245.2C573.3 244.1 571.7 242.4 570.4 241.2C569.0 240.0 567.3 238.8 566.0 237.7C564.8 236.6 563.4 235.2 562.6 234.2C561.7 233.3 560.9 232.4 560.8 231.6C560.8 230.9 561.4 230.0 562.2 229.6C563.0 229.1 564.9 229.4 566.0 229.0C567.2 228.7 568.5 227.9 569.5 227.3C570.5 226.7 571.7 225.8 572.1 225.6 M562.6 262.0C563.2 261.8 565.5 261.1 566.9 260.8C568.3 260.5 570.4 259.9 571.2 260.3C572.1 260.6 572.2 262.0 572.1 262.9C572.0 263.7 571.2 265.2 570.4 265.5C569.5 265.7 568.0 264.9 566.9 264.6C565.8 264.3 564.1 264.1 563.4 263.7C562.7 263.3 562.7 262.3 562.6 262.0 M548.3 241.2C548.7 241.0 550.2 239.9 550.8 240.3C551.3 240.7 551.7 242.5 551.8 243.8C551.9 245.0 551.2 246.9 551.3 248.1C551.4 249.4 552.4 250.3 552.5 251.6C552.6 252.8 552.3 255.0 551.8 255.9C551.3 256.9 550.2 257.8 549.5 257.7C548.9 257.5 548.0 256.2 547.8 255.1C547.6 253.9 548.3 252.1 548.3 250.7C548.3 249.3 547.8 247.9 547.8 246.4C547.8 244.9 548.2 242.0 548.3 241.2 M540.0 229.0C540.3 228.8 541.2 228.1 541.7 227.3C542.3 226.5 542.5 224.6 543.5 223.8C544.4 223.1 546.4 223.0 547.8 222.6C549.2 222.2 550.8 221.3 552.1 221.2C553.5 221.1 555.1 222.2 556.5 222.1C557.9 222.0 559.3 220.8 560.8 220.4C562.3 219.9 564.4 219.8 566.0 219.5C567.7 219.2 569.8 218.5 571.2 218.6C572.6 218.8 574.0 219.5 574.7 220.4C575.4 221.2 576.0 223.0 575.6 223.8C575.1 224.7 572.7 225.3 572.1 225.6 M556.5 222.1C556.9 222.4 558.2 223.3 559.1 223.8C560.0 224.4 561.1 225.1 562.2 225.6C563.3 226.0 564.4 226.4 566.0 226.4C567.6 226.4 571.1 225.7 572.1 225.6 M540.0 223.0 L543.5 223.8 M572.1 225.6C572.3 226.1 572.9 227.9 573.3 229.0C573.7 230.1 574.1 231.4 574.7 232.5C575.3 233.6 576.3 234.9 577.3 236.0C578.3 237.1 579.7 238.5 580.8 239.4C581.9 240.4 583.3 241.1 584.2 242.0C585.2 243.0 586.3 244.4 586.8 245.5C587.4 246.6 587.4 247.9 587.7 249.0C588.0 250.1 588.5 251.5 588.9 252.5C589.3 253.4 589.8 254.1 590.3 255.1C590.8 256.0 591.5 257.6 592.0 258.5C592.6 259.5 593.3 260.3 593.8 261.1C594.3 262.0 594.8 263.0 595.2 263.7C595.6 264.5 595.8 265.6 596.4 266.0C597.0 266.4 598.4 266.7 599.0 266.3C599.5 266.0 600.0 264.6 599.9 263.7C599.7 262.9 598.7 262.0 598.1 261.1C597.6 260.3 596.4 259.4 596.4 258.5C596.4 257.7 597.6 256.8 598.1 255.9C598.7 255.1 599.3 254.2 599.9 253.3C600.4 252.5 600.9 251.3 601.6 250.7C602.3 250.2 603.2 250.0 604.2 249.9C605.2 249.7 606.7 249.7 607.7 249.9C608.6 250.0 609.7 250.9 610.3 250.7C610.8 250.6 611.0 249.3 611.1 249.0 M572.1 225.6C572.5 225.8 573.9 226.7 574.7 227.3C575.5 227.9 576.6 229.2 577.3 229.0C578.0 228.9 577.7 226.7 579.0 226.4C580.3 226.2 583.8 226.9 585.5 227.3C587.1 227.7 588.4 228.2 589.4 229.0C590.5 229.9 591.2 231.5 592.0 232.5C592.9 233.5 594.0 234.3 594.6 235.5C595.3 236.6 595.9 238.4 595.9 239.4C595.8 240.5 595.0 241.6 594.1 242.0C593.2 242.5 591.5 242.4 590.3 242.4C589.1 242.3 587.7 242.3 586.8 241.7C586.0 241.1 585.0 239.6 584.8 238.6C584.5 237.5 585.7 236.1 585.5 235.1C585.2 234.1 584.4 233.1 583.4 232.5C582.3 232.0 580.4 231.6 579.0 231.6C577.6 231.6 575.4 232.4 574.7 232.5 M584.8 238.6C584.4 238.9 583.1 240.5 582.5 240.7C581.9 240.8 581.0 239.6 580.8 239.4 M586.8 241.7C586.8 242.3 586.4 244.4 586.5 245.5C586.6 246.7 587.5 248.4 587.7 249.0 M590.3 242.4C591.0 242.5 593.4 242.6 594.6 242.9C595.9 243.3 597.7 243.8 598.1 244.6C598.5 245.5 598.1 247.4 597.3 248.1C596.4 248.8 594.0 249.0 592.9 249.0C591.8 249.0 590.7 249.2 590.3 248.1C589.9 247.1 590.3 243.3 590.3 242.4 M595.9 239.4C596.1 239.0 596.2 236.8 597.3 236.5C598.3 236.2 600.8 237.6 602.5 237.7C604.1 237.8 606.0 237.5 607.7 237.2C609.3 236.9 611.5 236.1 612.9 236.0C614.3 235.9 615.9 235.8 616.3 236.5C616.8 237.2 615.9 239.1 615.5 240.3C615.1 241.5 614.4 242.9 613.7 243.8C613.0 244.6 612.2 245.2 611.1 245.5C610.0 245.9 608.2 245.7 606.8 245.9C605.4 246.0 603.8 246.6 602.5 246.4C601.1 246.2 598.8 244.9 598.1 244.6 M610.3 245.5 L611.1 249.0 M592.0 232.5C592.0 231.7 591.6 228.8 591.7 227.3C591.8 225.8 592.3 224.1 592.9 223.0C593.5 221.9 594.3 220.9 595.5 220.4C596.8 219.9 599.1 220.1 600.7 219.8C602.4 219.6 604.4 219.0 605.9 218.6C607.5 218.3 609.2 217.6 610.3 217.8C611.4 217.9 612.0 218.8 612.9 219.5C613.7 220.2 614.6 221.3 615.5 222.1C616.3 222.9 617.4 223.6 618.1 224.4C618.8 225.1 619.9 226.0 619.8 226.8C619.7 227.5 617.8 228.1 617.2 229.0C616.6 230.0 616.5 231.3 616.3 232.5C616.2 233.7 616.3 235.9 616.3 236.5 M610.3 217.8C610.8 217.8 612.6 217.3 613.7 217.8C614.8 218.2 616.3 219.4 617.2 220.4C618.1 221.3 619.0 222.8 619.5 223.8C619.9 224.9 619.8 226.3 619.8 226.8 M575.6 223.8C576.1 223.6 577.8 222.7 579.0 222.1C580.3 221.5 582.0 220.9 583.4 220.4C584.8 219.8 586.3 219.0 587.7 218.6C589.1 218.2 590.8 217.8 592.0 217.8C593.3 217.8 595.0 218.2 595.5 218.6C596.1 219.0 595.5 220.1 595.5 220.4 M575.6 223.8 L579.0 226.4 M574.7 220.4C575.4 220.1 577.5 219.3 579.0 218.6C580.6 217.9 582.6 216.6 584.2 216.0C585.9 215.5 587.9 215.2 589.4 215.2C591.0 215.2 592.7 215.6 593.8 216.0C594.9 216.4 596.1 217.3 596.4 217.8C596.7 218.2 595.7 218.5 595.5 218.6 M561.7 210.0C562.1 210.2 563.2 211.0 564.3 211.7C565.4 212.4 567.0 213.6 568.6 214.3C570.3 215.0 572.9 216.0 574.7 216.0C576.5 216.0 578.4 214.3 579.9 214.3C581.4 214.3 583.5 215.7 584.2 216.0 M561.7 210.0C561.5 209.4 560.4 207.3 560.8 206.5C561.2 205.6 563.0 205.2 564.3 204.7C565.5 204.3 567.2 203.9 568.6 203.9C570.0 203.9 571.6 204.3 573.0 204.7C574.4 205.2 576.1 205.8 577.3 206.5C578.5 207.2 580.1 208.1 580.8 209.1C581.5 210.1 581.8 211.7 581.6 212.6C581.5 213.4 580.2 214.0 579.9 214.3 M580.8 209.1C581.6 208.9 584.3 208.5 586.0 208.2C587.6 207.9 589.7 207.3 591.2 207.3C592.7 207.3 594.5 207.5 595.5 208.2C596.5 208.9 596.7 210.6 597.3 211.7C597.8 212.8 599.1 214.2 599.0 215.2C598.8 216.1 596.8 217.3 596.4 217.8 M560.8 206.5C560.3 206.6 558.3 206.7 557.3 207.3C556.4 208.0 554.9 209.7 554.7 210.8C554.6 211.9 555.8 213.2 556.5 214.3C557.2 215.4 558.4 216.8 559.1 217.8C559.8 218.7 560.5 219.9 560.8 220.4 M595.9 210.0 L595.5 208.2 M643.1 210.0C643.8 210.0 646.1 209.7 647.6 210.0C649.0 210.2 651.1 210.7 651.9 211.7C652.7 212.7 652.9 214.8 652.8 216.0C652.6 217.3 651.9 218.5 651.0 219.5C650.2 220.5 648.7 221.4 647.6 222.1C646.5 222.8 645.2 223.3 644.1 223.8C643.0 224.4 641.6 225.0 640.6 225.6C639.7 226.1 638.3 226.6 638.0 227.3C637.7 228.0 638.2 229.4 638.9 229.9C639.6 230.4 641.2 230.4 642.4 230.2C643.5 230.1 645.0 229.6 645.8 229.0C646.7 228.4 647.3 226.8 647.6 226.4 M619.8 226.8C620.4 226.6 622.2 225.6 623.3 225.6C624.4 225.5 625.8 225.9 626.7 226.4C627.7 227.0 628.5 228.2 629.3 229.0C630.2 229.9 631.0 231.1 632.0 231.6C632.9 232.2 634.1 232.7 635.1 232.5C636.0 232.3 637.6 230.6 638.0 230.2 M645.8 229.9C646.7 230.3 649.4 231.6 651.0 232.5C652.7 233.4 654.6 234.5 656.2 235.5C657.9 236.4 660.1 237.8 661.4 238.6C662.8 239.4 664.4 240.0 664.9 240.3 M611.1 249.0C612.0 249.1 614.7 250.0 616.3 249.9C618.0 249.7 619.9 248.7 621.5 248.1C623.2 247.6 625.1 246.9 626.7 246.4C628.4 245.9 630.3 245.4 632.0 245.2C633.6 244.9 635.5 244.6 637.2 244.6C638.8 244.7 640.7 245.2 642.4 245.5C644.0 245.9 645.9 246.5 647.6 246.9C649.2 247.3 651.1 247.9 652.8 248.1C654.4 248.3 656.6 248.4 658.0 248.1C659.4 247.8 660.7 247.2 661.4 246.4C662.1 245.6 662.3 244.0 662.3 242.9C662.3 241.8 661.6 240.0 661.4 239.4 M610.3 250.7C610.2 251.4 609.6 253.8 609.7 255.1C609.9 256.3 610.6 257.4 611.1 258.5C611.6 259.6 612.0 261.0 612.9 262.0C613.7 263.0 615.1 263.9 616.3 264.6C617.6 265.3 619.1 265.9 620.7 266.3C622.2 266.8 624.2 266.9 625.9 267.2C627.5 267.5 629.4 268.1 631.1 268.1C632.7 268.1 634.8 267.3 636.3 267.2C637.8 267.1 639.4 267.7 640.6 267.7C641.9 267.7 642.8 267.5 644.1 267.2C645.3 266.9 647.0 266.1 648.4 266.0C649.8 265.9 651.2 266.5 652.8 266.3C654.3 266.2 656.3 265.3 658.0 264.9C659.6 264.6 661.5 264.4 663.2 264.3C664.8 264.1 666.7 263.8 668.4 263.7C670.0 263.7 672.8 263.7 673.6 263.7 M540.0 265.5C540.7 265.3 542.9 264.6 544.3 264.6C545.7 264.6 547.3 265.2 548.7 265.5C550.1 265.7 551.8 265.8 553.0 266.3C554.3 266.9 555.8 268.0 556.5 268.9C557.1 269.9 557.2 271.3 557.0 272.4C556.8 273.5 555.6 274.8 555.3 275.9C554.9 277.0 554.6 278.2 554.7 279.3C554.9 280.5 555.8 282.0 556.5 282.8C557.2 283.7 557.8 284.1 559.1 284.6C560.3 285.0 562.6 285.0 564.3 285.4C566.0 285.8 567.8 286.5 569.5 287.2C571.2 287.8 573.0 288.9 574.7 289.8C576.4 290.6 578.4 291.8 579.9 292.4C581.4 292.9 583.0 293.2 584.2 293.2C585.5 293.2 586.9 293.1 587.7 292.4C588.5 291.7 589.0 289.9 589.4 288.9C589.9 287.9 589.6 286.9 590.3 286.3C591.0 285.7 592.5 285.4 593.8 285.1C595.0 284.8 596.7 284.4 598.1 284.6C599.5 284.7 600.9 285.4 602.5 285.8C604.0 286.2 605.9 286.7 607.7 287.2C609.5 287.6 611.8 288.2 613.7 288.5C615.7 288.9 618.0 289.0 619.8 289.2C621.6 289.4 623.3 289.6 625.0 289.8C626.7 289.9 628.5 290.0 630.2 290.3C631.9 290.6 633.6 291.2 635.4 291.5C637.2 291.8 640.5 292.2 641.5 292.4 M548.7 265.5C548.5 266.2 547.8 268.3 547.3 269.8C546.7 271.3 545.7 273.3 545.2 275.0C544.7 276.7 544.1 278.7 544.3 280.2C544.6 281.7 546.0 283.2 546.9 284.6C547.9 285.9 549.6 287.4 550.4 288.9C551.2 290.4 551.9 292.3 552.1 294.1C552.4 295.9 552.1 299.0 552.1 300.0 M556.5 282.8C556.8 283.1 558.5 283.6 558.2 284.6C557.9 285.5 555.7 287.9 554.7 288.9C553.8 289.9 552.6 290.3 552.1 290.6 M606.8 287.2C606.7 288.3 606.2 292.0 606.3 294.1C606.4 296.1 607.1 299.0 607.3 300.0 M662.1 243.4C662.8 243.7 665.3 244.9 666.6 245.7C667.8 246.5 669.1 247.3 670.1 248.3C671.1 249.3 672.1 250.6 672.8 251.9C673.5 253.2 674.6 255.1 674.6 256.3C674.6 257.6 673.1 258.8 672.8 259.9C672.5 261.0 672.8 262.9 672.8 263.4 M660.3 240.3C661.2 240.4 664.0 240.7 665.7 240.9C667.4 241.1 669.4 241.2 671.0 241.6C672.6 241.9 674.3 242.3 675.4 243.0C676.6 243.7 677.8 245.0 678.1 245.7C678.4 246.4 678.1 247.3 677.2 247.4C676.4 247.6 674.3 246.8 672.8 246.6C671.2 246.4 668.3 246.3 667.4 246.2 M670.1 248.3C670.8 248.5 673.4 248.7 674.6 249.2C675.7 249.8 676.5 250.9 677.2 251.9C677.9 252.9 678.4 254.6 679.0 255.4C679.6 256.3 681.1 256.9 680.8 257.2C680.5 257.5 678.2 257.4 677.2 257.2C676.2 257.1 675.0 256.5 674.6 256.3 M719.0 195.0C718.6 195.4 716.6 196.7 716.3 197.7C716.0 198.7 716.5 200.2 717.2 201.2C717.9 202.2 720.4 203.0 720.8 203.9C721.2 204.8 720.7 206.5 719.9 207.1C719.0 207.7 717.0 207.9 715.4 207.8C713.9 207.7 712.0 206.5 710.1 206.6C708.3 206.6 706.0 208.1 703.9 208.3C701.8 208.5 699.1 208.2 696.8 207.8C694.5 207.4 691.9 206.1 689.7 205.7C687.4 205.3 684.5 205.0 682.6 205.3C680.6 205.7 678.6 206.9 677.2 207.8C675.8 208.7 674.1 209.8 673.7 211.0C673.2 212.2 673.8 214.2 674.6 215.4C675.3 216.7 676.8 217.9 678.1 219.0C679.4 220.1 681.6 221.4 682.6 222.6C683.5 223.7 684.4 225.1 684.0 226.1C683.6 227.2 680.7 228.0 679.9 229.1C679.0 230.3 678.4 231.9 678.6 233.2C678.8 234.6 680.3 236.3 681.1 237.7C682.0 239.0 683.2 240.4 684.0 241.6C684.7 242.8 685.4 244.3 685.8 245.1C686.1 246.0 686.1 246.6 686.1 246.9 M684.0 226.1C684.6 225.6 686.6 223.7 687.9 223.1C689.2 222.5 691.1 222.4 692.3 222.6C693.6 222.8 695.0 223.6 695.9 224.3C696.8 225.0 698.2 226.1 698.2 227.0C698.2 227.9 696.8 229.1 695.9 229.7C695.0 230.2 693.0 230.0 692.3 230.6C691.6 231.1 691.2 232.2 691.4 233.2C691.7 234.2 693.1 235.6 694.1 236.8C695.1 238.0 696.5 239.9 697.7 240.9C698.8 241.8 700.2 242.5 701.2 242.6C702.2 242.8 703.6 241.1 703.9 241.6C704.2 242.1 703.3 244.3 703.0 245.7C702.7 247.0 702.0 248.7 702.1 250.1C702.3 251.5 703.2 253.3 703.9 254.6C704.6 255.8 705.8 257.0 706.6 258.1C707.3 259.2 708.0 260.5 708.3 261.7C708.7 262.8 708.8 264.7 708.9 265.2 M678.1 246.6C679.4 246.6 684.3 246.1 686.1 246.9C688.0 247.8 688.5 250.4 689.7 251.9C690.8 253.4 691.9 255.2 693.2 256.3C694.5 257.5 696.1 258.4 697.7 259.0C699.2 259.6 701.4 259.5 703.0 259.9C704.6 260.2 706.7 260.9 707.4 261.1 M708.3 246.6C708.8 245.8 710.9 243.7 711.0 242.1C711.1 240.5 709.6 238.3 709.2 236.8C708.8 235.2 708.0 233.5 708.3 232.3C708.6 231.2 709.7 230.2 711.0 229.7C712.3 229.1 714.6 228.6 716.3 228.8C718.0 228.9 720.0 229.7 721.7 230.6C723.4 231.4 725.2 233.0 727.0 234.1C728.8 235.2 732.2 237.1 733.2 237.7 M703.9 241.6C704.6 242.4 706.3 246.3 708.3 246.6C710.3 246.8 714.5 244.0 716.3 243.0C718.2 242.0 718.8 240.3 719.9 240.3C721.0 240.3 722.2 241.9 723.4 243.0C724.7 244.1 726.3 246.7 727.9 247.4C729.5 248.2 732.4 247.4 733.2 247.4 M708.9 265.2C709.5 264.9 711.3 264.0 712.8 263.4C714.3 262.9 716.4 261.8 718.1 261.7C719.8 261.5 721.7 262.1 723.4 262.6C725.2 263.0 727.2 263.8 728.8 264.3C730.3 264.9 732.5 265.8 733.2 266.1 M672.8 263.4C673.2 263.9 674.6 265.1 675.4 266.1C676.3 267.1 677.2 268.5 678.1 269.7C679.0 270.8 680.4 271.9 681.1 273.2C681.8 274.5 681.9 276.2 682.6 277.7C683.2 279.1 684.4 280.7 685.2 282.1C686.1 283.5 687.2 285.1 687.9 286.6C688.6 288.0 689.1 289.6 689.7 291.0C690.2 292.4 691.0 294.0 691.4 295.4C691.9 296.9 692.6 299.2 692.3 299.9C692.0 300.6 690.7 300.2 689.7 299.9C688.7 299.6 687.5 298.8 686.1 298.1C684.7 297.4 682.5 296.3 680.8 295.4C679.1 294.6 677.2 293.6 675.4 292.8C673.7 291.9 671.8 291.0 670.1 290.1C668.4 289.3 666.5 288.1 664.8 287.4C663.1 286.8 660.6 286.9 659.4 286.0C658.3 285.2 658.0 283.3 657.7 282.1C657.3 280.9 657.0 279.7 657.3 278.6C657.6 277.4 658.7 276.1 659.4 275.0C660.2 273.9 661.3 272.6 662.1 271.4C663.0 270.3 663.8 268.9 664.8 267.9C665.8 266.9 667.1 265.9 668.3 265.2C669.6 264.5 672.1 263.7 672.8 263.4 M692.3 299.9C692.8 299.3 694.0 297.2 695.0 296.3C696.0 295.5 697.6 294.3 698.6 294.6C699.6 294.8 700.4 297.0 701.2 298.1C702.1 299.2 703.0 300.6 703.9 301.7C704.7 302.8 706.1 304.5 706.6 305.0 M644.3 267.0C644.4 267.7 644.6 270.2 644.9 271.4C645.2 272.7 646.2 273.9 646.1 275.0C646.0 276.1 644.5 277.4 644.3 278.6C644.2 279.7 645.2 281.1 645.2 282.1C645.2 283.1 643.8 284.6 644.3 284.8C644.9 285.0 647.4 284.0 648.8 283.5C650.2 283.1 651.9 282.6 653.2 282.1C654.6 281.6 656.7 280.6 657.3 280.3 M644.3 284.8C644.0 285.3 643.0 287.1 642.6 288.3C642.1 289.6 641.6 291.4 641.3 292.8C641.0 294.2 640.7 295.8 640.8 297.2C640.8 298.6 641.4 300.4 641.7 301.7C642.0 302.9 642.4 304.5 642.6 305.0 M645.2 284.8C645.8 285.2 647.6 286.6 648.8 287.4C649.9 288.3 651.6 289.1 652.3 290.1C653.0 291.1 653.5 292.7 653.2 293.7C652.9 294.7 651.4 295.5 650.6 296.3C649.7 297.2 648.6 298.1 647.9 299.0C647.2 299.9 646.7 300.7 646.1 301.7C645.5 302.6 644.6 304.5 644.3 305.0 M652.3 290.1C653.2 289.5 656.5 287.2 657.7 286.6C658.8 285.9 659.2 286.1 659.4 286.0 M553.7 305.0C553.4 305.5 552.3 306.9 551.9 308.0C551.5 309.1 550.6 310.1 551.0 311.6C551.4 313.0 553.1 315.3 554.6 316.9C556.0 318.5 558.0 320.2 559.9 321.3C561.7 322.5 564.3 323.3 566.1 324.0C568.0 324.7 569.3 324.9 571.4 325.8C573.6 326.6 576.7 328.1 579.4 329.3C582.1 330.6 585.5 332.5 588.3 333.8C591.2 335.1 594.5 336.3 597.2 337.3C599.9 338.3 603.8 339.1 605.2 340.0C606.6 340.9 606.0 342.2 606.1 342.7 M571.4 325.8C572.0 326.8 574.1 330.2 575.0 332.0C575.9 333.8 576.8 335.5 576.8 337.3C576.8 339.2 575.7 341.6 575.0 343.6C574.3 345.5 573.2 347.6 572.3 349.8C571.5 351.9 570.5 354.8 569.7 356.9C568.8 359.0 567.7 361.3 567.0 363.1C566.3 365.0 565.2 366.9 565.2 368.4C565.2 370.0 566.3 371.6 567.0 372.9C567.7 374.2 568.8 375.4 569.7 376.4C570.5 377.4 571.8 378.0 572.3 379.1C572.9 380.2 573.5 382.0 573.2 383.6C572.9 385.1 571.7 387.3 570.6 388.9C569.4 390.5 567.5 392.1 566.1 393.3C564.7 394.6 562.9 395.6 561.7 396.9C560.4 398.2 559.2 399.8 558.1 401.3C557.0 402.9 555.6 405.3 554.6 406.7C553.6 408.1 552.3 409.5 551.9 410.0 M559.9 321.3C558.8 322.2 555.1 324.8 552.8 326.7C550.5 328.5 547.7 331.0 545.7 332.9C543.7 334.7 542.0 336.8 540.3 338.2C538.6 339.6 535.9 341.2 535.0 341.8 M535.0 364.9C535.9 365.2 538.6 366.1 540.3 366.7C542.0 367.2 543.7 368.3 545.7 368.4C547.7 368.6 550.5 367.9 552.8 367.6C555.1 367.2 557.9 366.0 559.9 366.1C561.9 366.3 564.4 368.1 565.2 368.4 M573.2 383.6C573.9 383.8 576.1 384.8 577.7 385.3C579.2 385.9 581.3 387.3 583.0 387.1C584.7 387.0 587.3 384.2 588.3 384.4C589.3 384.7 589.1 388.2 589.2 388.9 M608.2 300.0C608.3 301.1 608.6 304.8 608.8 307.1C608.9 309.4 609.2 311.9 609.3 314.2C609.5 316.5 609.6 319.1 609.7 321.3C609.7 323.6 610.3 325.5 609.7 328.4C609.0 331.4 606.4 338.2 605.8 340.0 M609.7 329.3C610.5 329.4 613.3 329.9 615.0 329.9C616.7 329.9 619.5 329.4 620.3 329.3 M636.3 300.0C636.8 300.7 638.1 302.9 639.0 304.4C639.9 306.0 640.8 308.1 641.7 309.8C642.5 311.5 643.6 313.8 644.3 315.1C645.0 316.4 645.8 317.4 646.1 317.8 M641.7 300.0C642.1 300.6 643.3 302.3 644.3 303.6C645.3 304.8 646.9 306.6 647.9 308.0C648.9 309.4 649.8 311.3 650.6 312.4C651.3 313.6 652.0 314.7 652.3 315.1 M689.7 300.0C690.5 300.3 693.0 301.1 695.0 301.8C697.0 302.5 700.0 303.7 702.1 304.4C704.2 305.2 707.1 305.5 708.3 306.2C709.6 306.9 710.5 308.3 710.1 308.9C709.7 309.5 707.1 309.4 705.7 309.8C704.2 310.2 701.4 310.8 701.2 311.6C701.1 312.3 703.4 313.5 704.8 314.2C706.2 314.9 708.5 315.3 710.1 316.0C711.7 316.7 713.3 317.7 714.6 318.7C715.8 319.7 717.1 320.9 718.1 322.2C719.1 323.5 720.1 325.2 720.8 326.7C721.5 328.1 722.4 329.7 722.6 331.1C722.7 332.5 722.1 334.4 721.7 335.6C721.2 336.7 720.2 337.8 719.9 338.2 M712.8 321.3C713.6 321.0 716.4 320.3 718.1 319.6C719.8 318.8 723.0 317.9 723.4 316.9C723.9 315.9 720.5 313.8 720.8 313.3C721.1 312.9 723.8 313.5 725.2 314.2C726.6 314.9 728.5 316.6 729.7 317.8C730.8 318.9 731.9 320.8 732.3 321.3 M732.3 332.0C732.0 332.9 731.3 335.8 730.6 337.3C729.8 338.9 728.6 340.5 727.9 341.8C727.2 343.1 726.4 344.8 726.1 345.3 M545.7 400.0C546.2 400.6 548.2 402.1 549.2 403.6C550.2 405.0 551.3 407.3 551.9 408.9C552.5 410.5 552.9 411.9 552.8 413.3C552.6 414.8 551.4 416.2 551.0 417.8C550.6 419.3 550.0 421.4 550.1 423.1C550.3 424.8 551.2 426.9 551.9 428.4C552.6 430.0 553.6 431.5 554.6 432.9C555.6 434.3 557.1 435.9 558.1 437.3C559.1 438.8 560.2 440.2 560.8 441.8C561.3 443.3 561.2 445.4 561.7 447.1C562.1 448.8 562.9 450.6 563.4 452.4C564.0 454.3 564.7 456.7 565.2 458.7C565.8 460.7 566.8 462.9 567.0 464.9C567.2 466.9 567.1 469.1 566.6 471.1C566.2 473.1 565.0 475.3 564.3 477.3C563.7 479.3 563.0 481.6 562.6 483.6C562.1 485.5 562.0 487.8 561.7 489.8C561.4 491.8 560.8 494.0 560.8 496.0C560.8 498.0 561.4 500.0 561.7 502.2C562.0 504.5 562.4 508.8 562.6 510.0 M552.8 413.3C553.6 413.2 556.3 412.4 558.1 412.4C560.0 412.4 562.8 412.9 564.3 413.3C565.9 413.8 567.2 414.1 567.9 415.1C568.6 416.1 568.8 418.0 568.8 419.6C568.8 421.1 568.3 423.3 567.9 424.9C567.5 426.5 566.8 428.1 566.1 429.3C565.4 430.6 564.3 432.5 563.4 432.9C562.6 433.3 561.4 431.6 560.8 432.0C560.2 432.4 560.0 434.7 559.5 435.6C559.1 436.4 558.3 437.0 558.1 437.3 M567.9 415.1C568.7 414.8 571.7 414.0 573.2 413.3C574.8 412.6 576.2 411.5 577.7 410.7C579.1 409.8 580.8 409.0 582.1 408.0C583.4 407.0 584.7 405.4 585.7 404.4C586.7 403.4 588.2 401.4 588.3 401.8C588.5 402.2 587.1 405.3 586.6 407.1C586.0 409.0 585.3 411.3 584.8 413.3C584.2 415.3 583.5 417.7 583.0 419.6C582.5 421.4 582.3 423.3 581.6 424.9C580.9 426.5 579.6 427.9 578.6 429.3C577.5 430.8 576.1 432.4 575.0 433.8C573.9 435.2 572.3 436.9 571.4 438.2C570.6 439.5 570.7 440.9 569.7 441.8C568.7 442.6 566.5 443.3 565.2 443.6C563.9 443.8 562.2 443.6 561.7 443.6 M561.7 447.1C562.7 447.3 566.0 447.9 567.9 448.0C569.7 448.1 571.7 447.4 573.2 447.6C574.8 447.9 576.5 448.7 577.7 449.8C578.8 450.8 579.3 453.1 580.3 454.2C581.3 455.4 582.6 456.6 583.9 456.9C585.2 457.2 587.1 456.4 588.3 456.0C589.6 455.6 590.8 454.1 591.9 454.2C593.0 454.4 594.6 455.8 595.4 456.9C596.3 458.0 596.7 459.8 597.2 461.3C597.8 462.9 598.0 465.2 599.0 466.7C600.0 468.1 602.3 469.4 603.4 470.2C604.6 471.1 605.1 471.9 606.1 472.0C607.1 472.1 608.5 471.0 609.7 471.1C610.8 471.3 611.9 472.5 613.2 472.9C614.5 473.3 616.2 473.4 617.7 473.8C619.1 474.2 621.0 474.8 622.1 475.6C623.2 476.3 624.1 477.6 624.8 478.2C625.5 478.9 626.6 480.2 626.6 479.6C626.6 479.1 625.3 476.2 624.8 474.7C624.2 473.2 623.4 471.6 623.0 470.2C622.6 468.8 622.1 467.2 622.1 465.8C622.1 464.4 622.3 462.3 623.0 461.3C623.7 460.3 625.1 460.1 626.6 459.6C628.0 459.0 630.2 457.5 631.9 457.8C633.6 458.1 635.8 460.3 637.2 461.3C638.6 462.3 639.8 463.1 640.8 464.0C641.8 464.9 642.7 465.7 643.4 466.7C644.2 467.7 644.8 469.2 645.2 470.2C645.6 471.2 646.0 472.5 646.1 472.9 M606.1 472.0C606.0 472.7 605.5 475.4 605.2 476.4C604.9 477.4 605.3 477.8 604.3 478.2C603.3 478.6 600.1 478.3 599.0 479.1C597.9 480.0 597.4 482.0 597.2 483.6C597.0 485.1 597.2 487.3 597.6 488.9C598.0 490.5 599.3 492.1 599.9 493.3C600.5 494.6 600.9 496.3 601.1 496.9 M560.8 496.9C561.6 497.0 564.3 497.6 566.1 497.8C568.0 498.0 570.2 498.0 572.3 498.1C574.5 498.3 577.2 498.7 579.4 498.7C581.7 498.7 584.3 498.3 586.6 498.1C588.8 497.9 591.3 497.6 593.7 497.4C596.0 497.2 599.1 496.7 601.1 496.9C603.1 497.1 604.6 498.2 606.1 498.7C607.6 499.1 609.4 499.3 610.6 499.6C611.7 499.8 612.2 500.6 613.2 500.4C614.2 500.3 615.6 499.4 616.8 498.7C617.9 498.0 619.2 496.9 620.3 496.0C621.5 495.1 622.5 494.2 623.9 493.3C625.3 492.5 627.7 491.2 629.2 490.7C630.8 490.1 633.2 490.3 633.7 489.8C634.1 489.2 632.6 488.1 631.9 487.1C631.2 486.1 630.1 484.8 629.2 483.6C628.4 482.4 627.0 480.3 626.6 479.6 M641.7 464.9C641.4 465.7 640.0 468.5 639.9 470.2C639.7 471.9 640.4 473.8 640.8 475.6C641.2 477.3 642.0 479.3 642.6 480.9C643.1 482.5 643.9 483.8 644.3 485.3C644.8 486.9 644.8 489.2 645.2 490.7C645.6 492.1 646.4 494.1 647.0 494.2C647.6 494.4 648.6 492.7 648.8 491.6C649.0 490.4 648.8 488.7 648.4 487.1C648.1 485.5 647.1 483.5 646.6 481.8C646.2 480.1 645.7 477.9 645.6 476.4C645.5 475.0 645.3 473.4 646.1 472.9C646.9 472.4 649.0 473.4 650.6 473.2C652.1 473.1 654.2 472.3 655.9 472.0C657.6 471.7 659.5 471.5 661.2 471.1C662.9 470.7 665.5 470.0 666.6 469.3C667.6 468.6 668.0 467.4 668.0 466.7C668.0 466.0 666.8 465.2 666.6 464.9 M667.4 469.3C667.4 470.2 667.6 473.0 667.4 474.7C667.3 476.4 666.8 478.3 666.6 480.0C666.3 481.7 666.1 483.6 665.7 485.3C665.2 487.0 664.7 489.0 663.9 490.7C663.0 492.4 661.6 494.4 660.3 496.0C659.1 497.6 657.3 499.2 655.9 500.4C654.5 501.7 652.7 503.0 651.4 504.0C650.2 505.0 648.9 505.7 647.9 506.7C646.9 507.6 645.6 509.5 645.2 510.0 M633.7 489.8C634.2 490.2 636.2 491.3 637.2 492.4C638.2 493.6 639.3 495.3 639.9 496.9C640.5 498.5 640.6 500.1 640.8 502.2C641.0 504.3 641.2 508.8 641.3 510.0 M613.2 500.4C613.5 501.2 614.1 503.6 615.0 504.9C615.9 506.2 617.6 507.6 618.6 508.4C619.6 509.3 620.8 509.8 621.2 510.0 M601.1 496.9C601.4 497.7 602.9 501.2 602.6 502.2C602.2 503.2 600.1 503.1 599.0 503.1C597.9 503.1 596.2 501.7 595.4 502.2C594.7 502.8 594.6 505.4 594.6 506.7C594.5 507.9 595.0 509.5 595.1 510.0 M701.2 475.6C701.5 476.0 702.6 476.9 703.0 478.2C703.4 479.5 703.9 481.8 703.9 483.6C703.9 485.3 703.4 487.2 703.0 488.9C702.6 490.6 701.8 492.5 701.2 494.2C700.7 495.9 700.0 497.8 699.4 499.6C698.9 501.3 698.2 503.2 697.7 504.9C697.1 506.6 696.2 509.2 695.9 510.0 M701.2 475.6C700.8 476.1 699.4 477.8 698.6 479.1C697.7 480.4 696.7 482.3 695.9 483.6C695.0 484.8 694.2 486.1 693.2 487.1C692.2 488.1 690.9 489.1 689.7 489.8C688.4 490.5 686.4 490.7 685.2 491.6C684.1 492.4 683.3 493.8 682.6 495.1C681.8 496.4 681.2 498.0 680.8 499.6C680.4 501.1 679.9 503.2 679.9 504.9C679.9 506.6 680.6 509.2 680.8 510.0 M562.6 510.0C563.0 510.3 564.2 511.2 565.2 512.1C566.2 513.0 567.9 514.0 568.8 515.7C569.6 517.4 570.1 520.5 570.6 522.8C571.0 525.1 571.0 527.6 571.4 529.9C571.9 532.2 572.5 535.0 573.2 537.0C573.9 539.0 575.0 541.1 575.9 542.3C576.7 543.6 578.0 543.9 578.6 545.0C579.1 546.1 579.0 547.9 579.4 549.4C579.9 551.0 580.9 553.2 581.6 554.8C582.3 556.3 583.8 557.9 583.9 559.2C584.0 560.5 582.2 561.6 582.1 562.8C582.0 563.9 582.6 565.2 583.4 566.3C584.1 567.5 585.5 569.1 586.6 569.9C587.6 570.7 588.7 571.1 590.1 571.1C591.5 571.1 593.7 570.2 595.4 569.9C597.2 569.6 599.1 569.6 600.8 569.4C602.5 569.2 604.4 569.0 606.1 568.6C607.8 568.3 609.7 567.7 611.4 567.2C613.2 566.7 615.1 566.3 616.8 565.4C618.5 564.6 620.5 563.2 622.1 561.9C623.7 560.6 625.3 559.0 626.6 557.4C627.8 555.9 629.0 553.8 630.1 552.1C631.2 550.4 632.7 548.5 633.7 546.8C634.7 545.1 635.8 542.9 636.3 541.4C636.8 540.0 636.8 538.9 636.7 537.9C636.5 536.9 635.6 535.6 635.4 535.2 M578.6 545.0C579.0 545.2 580.4 546.1 581.6 546.2C582.7 546.4 584.4 546.2 585.7 545.9C586.9 545.6 588.4 545.3 589.2 544.5C590.1 543.6 590.7 542.0 591.0 540.6C591.3 539.1 591.0 536.9 591.0 535.2C591.0 533.5 591.1 531.9 591.0 529.9C590.9 527.9 590.1 524.8 590.1 522.8C590.1 520.8 590.3 518.4 591.0 517.4C591.7 516.4 593.9 517.7 594.6 516.6C595.2 515.4 595.0 511.3 595.1 510.3 M591.0 529.9C591.4 530.6 593.0 533.2 593.7 534.3C594.4 535.5 594.6 537.0 595.4 537.0C596.3 537.0 598.0 535.2 599.0 534.3C600.0 533.5 600.7 532.0 601.7 531.7C602.7 531.4 604.1 532.6 605.2 532.6C606.4 532.6 607.6 532.4 608.8 531.7C609.9 531.0 611.2 529.4 612.3 528.1C613.5 526.8 614.8 524.9 615.9 523.7C617.0 522.4 618.4 521.0 619.4 520.1C620.4 519.2 621.7 518.2 622.1 517.8 M621.2 510.0C620.8 510.6 618.4 512.6 618.6 513.9C618.7 515.1 620.7 517.1 622.1 517.8C623.5 518.5 625.8 518.1 627.4 518.3C629.1 518.6 631.5 518.2 632.4 519.2C633.3 520.2 632.8 522.8 633.1 524.6C633.4 526.3 633.9 528.3 634.2 529.9C634.5 531.5 634.7 533.1 634.9 534.3C635.1 535.6 635.4 537.3 635.4 537.9 M632.4 519.2C632.9 518.7 634.6 516.9 635.4 515.7C636.3 514.4 637.3 512.1 637.8 511.2C638.2 510.3 638.1 510.2 638.1 510.0 M645.2 510.0C645.4 510.7 645.8 513.3 646.1 514.8C646.4 516.3 647.1 517.8 647.0 519.2C646.9 520.6 645.9 522.2 645.2 523.7C644.5 525.1 643.6 527.0 642.6 528.1C641.6 529.2 640.0 530.1 639.0 530.8C638.0 531.5 636.9 531.8 636.3 532.6C635.8 533.3 635.6 534.8 635.4 535.2 M617.1 546.8C617.6 546.5 619.4 545.0 620.3 545.0C621.3 545.0 622.6 545.9 623.0 546.8C623.4 547.6 623.4 549.4 623.0 550.3C622.6 551.3 620.8 552.0 620.3 552.6C619.8 553.3 620.5 554.1 620.0 554.4C619.5 554.7 617.9 554.9 617.1 554.4C616.4 554.0 615.4 552.8 615.4 551.6C615.4 550.4 616.8 547.5 617.1 546.8 M680.8 510.0C680.4 510.3 678.8 511.2 678.1 512.1C677.4 513.0 676.7 514.2 676.3 515.7C676.0 517.1 675.8 519.3 676.0 521.0C676.1 522.7 676.7 524.8 677.2 526.3C677.8 527.9 678.5 529.8 679.4 530.8C680.2 531.8 681.3 532.5 682.6 532.6C683.8 532.6 685.8 531.9 687.0 531.3C688.2 530.7 689.2 530.2 690.0 529.0C690.9 527.8 691.7 525.4 692.3 523.7C693.0 522.0 693.5 520.2 694.1 518.3C694.7 516.5 695.5 513.4 695.9 512.1C696.3 510.8 696.3 510.3 696.4 510.0 M105.9 190.0C106.2 191.4 108.0 195.8 108.0 198.5C108.0 201.3 105.7 204.7 105.9 207.1C106.0 209.5 108.0 211.9 109.1 213.5C110.1 215.0 112.1 216.0 112.3 216.7C112.4 217.3 111.2 216.2 110.1 217.7C109.1 219.3 107.7 223.5 105.9 226.3C104.0 229.0 100.6 232.1 98.4 234.8C96.2 237.5 93.5 240.6 92.0 243.3C90.5 246.1 89.7 249.1 88.8 251.9C87.9 254.6 86.8 257.7 86.7 260.4C86.5 263.1 87.1 266.2 87.7 268.9C88.4 271.7 89.6 275.1 90.9 277.5C92.3 279.9 94.7 282.3 96.3 283.9C97.8 285.4 99.7 285.4 100.5 287.1C101.4 288.8 101.1 292.3 101.6 294.5C102.1 296.8 103.1 298.9 103.7 300.9C104.4 303.0 105.2 305.3 105.9 307.3C106.5 309.4 107.3 311.4 108.0 313.7C108.7 316.1 109.8 320.7 110.1 322.1 M112.3 215.6C117.6 215.5 134.9 215.2 145.3 215.2C155.7 215.1 167.4 215.1 177.3 215.2C187.2 215.2 201.4 215.0 207.2 215.6C213.0 216.2 211.2 218.1 213.6 218.8C216.0 219.5 219.4 220.0 222.1 219.9C224.9 219.7 228.3 217.4 230.7 217.7C233.1 218.1 235.4 220.6 237.1 222.0C238.8 223.4 241.0 224.6 241.3 226.3C241.7 228.0 240.1 230.8 239.2 232.7C238.3 234.5 236.9 236.1 236.0 238.0C235.1 239.9 233.4 243.5 233.9 244.4C234.4 245.3 237.3 244.0 239.2 243.3C241.1 242.7 243.6 241.3 245.6 240.1C247.6 238.9 250.3 237.2 252.0 235.9C253.7 234.5 255.1 233.0 256.3 231.6C257.5 230.2 257.8 228.4 259.5 227.3C261.2 226.3 264.4 226.1 266.9 225.2C269.5 224.3 272.7 223.2 275.5 222.0C278.2 220.8 281.3 219.1 284.0 217.7C286.7 216.4 290.0 214.7 292.5 213.5C295.1 212.3 298.8 210.8 300.0 210.3 M100.5 284.9C101.9 285.1 106.3 285.3 109.1 286.0C111.8 286.7 114.9 288.9 117.6 289.2C120.3 289.5 123.7 288.0 126.1 288.1C128.5 288.3 130.7 289.1 132.5 290.3C134.4 291.5 136.0 294.6 137.9 295.6C139.7 296.6 142.4 296.7 144.3 296.7C146.1 296.7 148.1 294.9 149.6 295.6C151.1 296.3 152.7 299.2 153.9 300.9C155.1 302.6 156.0 304.9 157.1 306.3C158.1 307.6 159.2 309.6 160.3 309.5C161.3 309.3 162.1 306.6 163.5 305.2C164.8 303.8 166.8 302.1 168.8 300.9C170.8 299.7 173.9 298.6 176.3 297.7C178.7 296.9 181.2 296.1 183.7 295.6C186.3 295.1 189.9 294.5 192.3 294.5C194.7 294.5 196.6 295.6 198.7 295.6C200.7 295.6 203.0 294.4 205.1 294.5C207.1 294.7 209.8 295.6 211.5 296.7C213.2 297.7 214.5 299.4 215.7 300.9C216.9 302.5 217.7 305.1 218.9 306.3C220.1 307.5 222.2 308.7 223.2 308.4C224.2 308.1 225.2 305.8 225.3 304.1C225.4 302.4 224.2 299.6 223.8 297.7C223.5 295.9 222.8 294.3 223.2 292.4C223.6 290.5 224.9 287.7 226.4 286.0C227.9 284.3 230.8 282.9 232.8 281.7C234.8 280.5 237.2 279.7 239.2 278.5C241.2 277.3 244.1 276.1 245.6 274.3C247.1 272.4 247.8 269.0 248.8 266.8C249.8 264.6 250.8 262.3 252.0 260.4C253.2 258.5 254.7 256.8 256.3 255.1C257.8 253.4 259.7 251.3 261.6 249.7C263.5 248.2 266.1 246.8 268.0 245.5C269.9 244.1 271.5 242.6 273.3 241.2C275.2 239.8 277.7 238.1 279.7 236.9C281.8 235.7 284.1 234.8 286.1 233.7C288.2 232.7 290.3 231.6 292.5 230.5C294.8 229.5 298.8 227.8 300.0 227.3 M103.7 289.2C104.2 289.4 106.1 289.2 106.9 290.3C107.8 291.3 108.6 293.6 109.1 295.6C109.6 297.6 109.6 300.8 110.1 303.1C110.6 305.3 111.6 307.1 112.3 309.5C112.9 311.9 114.1 316.6 114.4 318.0 M217.9 243.3C218.5 242.1 220.4 237.9 222.1 235.9C223.8 233.8 226.7 231.6 228.5 230.5C230.4 229.5 233.5 228.6 233.9 229.5C234.2 230.3 232.0 233.8 230.7 235.9C229.3 237.9 227.0 240.7 225.3 242.3C223.6 243.8 221.2 245.3 220.0 245.5C218.8 245.6 218.2 243.7 217.9 243.3 M160.3 309.5C160.1 310.5 159.7 313.9 159.2 315.9C158.7 317.9 157.4 321.1 157.1 322.1 M523.9 200.1C524.1 200.8 525.7 203.3 525.4 204.4C525.1 205.6 523.7 206.4 522.1 207.1C520.6 207.7 517.7 208.0 515.6 208.4C513.5 208.7 510.8 209.2 509.1 209.2C507.3 209.3 505.1 209.4 504.7 208.8C504.4 208.2 506.0 206.4 506.9 205.5C507.8 204.7 510.3 204.1 510.1 203.4C510.0 202.7 506.3 202.2 505.8 201.2C505.3 200.1 506.4 198.0 506.9 196.8C507.3 195.6 508.3 194.1 508.6 193.6 M542.8 202.3C542.1 202.6 540.0 203.7 538.5 204.4C536.9 205.1 534.8 206.0 533.0 206.6C531.3 207.2 529.3 207.7 527.6 208.4C525.8 209.1 524.0 210.2 522.1 211.0C520.2 211.7 517.7 212.5 515.6 213.2C513.5 213.9 511.0 214.6 509.1 215.3C507.1 216.0 504.0 216.5 503.6 217.5C503.3 218.6 505.5 220.6 506.9 221.9C508.3 223.1 511.1 223.7 512.3 225.1C513.5 226.5 514.3 228.8 514.5 230.6C514.7 232.3 513.8 234.6 513.4 236.0C513.1 237.4 513.7 238.9 512.3 239.3C510.9 239.6 507.3 238.5 504.7 238.2C502.1 237.9 498.4 237.5 496.0 237.5C493.6 237.5 490.8 237.6 489.5 238.2C488.1 238.8 487.7 240.1 487.7 241.5C487.7 242.9 489.5 245.0 489.5 246.9C489.4 248.8 488.0 251.4 487.3 253.4C486.6 255.5 485.3 258.1 485.1 260.0C484.9 261.9 485.3 264.4 486.2 265.4C487.1 266.5 489.3 265.8 490.5 266.5C491.8 267.2 492.8 268.7 493.8 269.8C494.9 270.8 495.9 272.3 497.1 273.0C498.3 273.7 499.9 274.3 501.4 274.1C503.0 274.0 505.1 272.8 506.9 272.0C508.6 271.1 510.6 270.1 512.3 268.7C514.1 267.3 516.2 265.0 517.8 263.2C519.3 261.5 520.7 259.5 522.1 257.8C523.5 256.1 525.1 253.9 526.5 252.4C527.9 250.8 529.3 249.0 530.8 248.0C532.4 247.0 534.9 246.7 536.3 245.8C537.7 244.9 538.3 243.2 539.5 242.6C540.8 241.9 543.2 241.6 543.9 241.5 M512.3 239.3C513.5 239.6 517.5 240.8 519.9 241.5C522.4 242.2 525.0 242.9 527.6 243.6C530.2 244.3 534.9 245.5 536.3 245.8 M489.5 246.9C490.2 247.1 492.9 246.8 493.8 248.0C494.7 249.2 495.1 252.4 494.9 254.5C494.7 256.6 493.2 259.1 492.7 261.1C492.2 263.0 491.8 265.6 491.6 266.5 M527.6 208.4C527.9 209.1 528.7 211.9 529.7 213.2C530.8 214.4 532.5 215.5 534.1 216.4C535.7 217.3 538.2 217.7 539.5 218.6C540.9 219.5 542.6 220.6 542.8 221.9C543.0 223.1 540.8 224.7 540.6 226.2C540.5 227.8 541.2 230.3 541.7 231.7C542.2 233.1 543.6 234.4 543.9 234.9 M533.0 206.6C533.4 207.3 534.1 209.9 535.2 211.0C536.2 212.0 538.3 212.5 539.5 213.2C540.8 213.9 542.3 215.0 542.8 215.3 M492.7 284.8C493.4 284.1 495.7 281.8 497.1 280.7C498.5 279.5 499.9 278.1 501.4 277.4C503.0 276.7 505.1 276.3 506.9 276.3C508.6 276.3 510.6 276.9 512.3 277.4C514.1 277.9 516.2 278.7 517.8 279.6C519.3 280.4 520.7 282.0 522.1 282.8C523.5 283.7 525.8 284.5 526.5 284.8 M510.1 277.4 L511.2 284.8 M300.0 158.7C301.0 159.4 304.4 161.7 306.5 163.1C308.6 164.5 310.6 166.4 313.1 167.4C315.5 168.5 319.3 168.6 321.8 169.6C324.2 170.6 326.9 172.2 328.3 174.0C329.7 175.7 329.8 178.4 330.5 180.5C331.2 182.6 332.7 184.9 332.7 187.0C332.7 189.1 331.5 191.5 330.5 193.6C329.4 195.6 327.9 198.3 326.1 200.1C324.4 201.8 321.7 203.3 319.6 204.4C317.5 205.6 315.2 206.4 313.1 207.1C311.0 207.8 308.6 208.2 306.5 208.8C304.4 209.4 301.0 210.6 300.0 211.0 M313.1 215.3C314.1 215.0 317.5 213.3 319.6 213.2C321.7 213.0 324.6 213.4 326.1 214.2C327.7 215.1 329.6 217.2 329.4 218.6C329.2 220.0 326.8 222.1 325.0 223.0C323.3 223.8 320.4 224.4 318.5 224.0C316.6 223.7 313.9 222.2 313.1 220.8C312.2 219.4 313.1 216.2 313.1 215.3 M110.1 309.6C110.8 310.1 112.9 311.1 114.4 312.8C115.9 314.5 118.2 317.7 119.7 320.3C121.3 322.8 123.0 326.2 124.0 328.8C125.0 331.4 124.9 334.0 126.1 336.3C127.3 338.5 129.4 340.8 131.5 342.7C133.5 344.5 136.4 346.3 138.9 348.0C141.5 349.7 144.7 352.1 147.5 353.3C150.2 354.6 153.3 355.6 156.0 355.9C158.7 356.2 162.1 355.2 164.5 355.5C166.9 355.7 169.1 356.6 170.9 357.6C172.8 358.6 174.6 360.8 176.3 361.9C178.0 362.9 179.7 363.1 181.6 364.0C183.5 364.9 186.3 365.8 188.0 367.2C189.7 368.6 190.9 370.8 192.3 372.5C193.6 374.2 195.2 376.3 196.5 377.9C197.9 379.4 199.4 380.9 200.8 382.1C202.2 383.3 203.4 384.5 205.1 385.3C206.8 386.2 209.4 387.3 211.5 387.5C213.5 387.6 216.2 386.7 217.9 386.4C219.6 386.1 221.1 384.8 222.1 385.3C223.2 385.8 223.8 387.9 224.3 389.6C224.8 391.3 225.3 394.0 225.3 396.0C225.3 398.0 224.8 400.4 224.3 402.4C223.8 404.4 223.0 406.8 222.1 408.8C221.3 410.8 220.1 413.2 218.9 415.2C217.7 417.2 216.0 419.6 214.7 421.6C213.3 423.6 211.3 426.3 210.4 428.0C209.5 429.7 209.5 431.4 209.3 432.1 M157.1 300.0C157.2 302.7 158.1 313.3 158.1 317.1C158.1 320.8 157.3 321.4 157.1 323.5C156.8 325.5 156.3 327.8 156.4 329.9C156.6 331.9 157.2 334.4 158.1 336.3C159.1 338.1 160.7 340.2 162.4 341.6C164.1 343.0 166.8 344.6 168.8 344.8C170.8 345.0 173.7 343.7 175.2 342.7C176.7 341.6 177.4 339.8 178.4 338.4C179.4 337.0 180.4 335.2 181.6 334.1C182.8 333.0 184.3 332.1 185.9 331.6C187.4 331.1 189.8 330.7 191.2 330.9C192.6 331.2 194.1 331.9 194.4 333.1C194.7 334.3 194.0 336.7 193.3 338.4C192.7 340.1 191.0 342.0 190.1 343.7C189.3 345.4 188.7 347.5 188.0 349.1C187.3 350.6 185.9 352.2 185.9 353.3C185.9 354.4 186.6 355.4 188.0 355.9C189.4 356.4 192.4 356.3 194.4 356.5C196.4 356.8 198.9 356.9 200.8 357.6C202.7 358.3 205.5 359.4 206.1 360.8C206.8 362.2 205.6 364.3 205.1 366.1C204.6 368.0 202.9 370.5 202.9 372.5C202.9 374.6 204.4 377.2 205.1 378.9C205.7 380.6 205.8 382.3 207.2 383.2C208.6 384.1 211.7 384.4 213.6 384.3C215.5 384.1 217.4 382.3 218.9 382.1C220.5 382.0 221.7 383.4 223.2 383.2C224.7 383.0 227.2 382.1 228.5 381.1C229.9 380.0 230.4 377.8 231.7 376.8C233.1 375.8 235.2 375.3 237.1 374.7C238.9 374.0 241.8 373.1 243.5 372.5C245.2 371.9 246.9 370.7 247.7 370.8C248.6 371.0 249.1 372.5 248.8 373.6C248.5 374.7 246.2 376.5 245.6 377.9C245.0 379.2 244.8 381.3 245.2 382.1C245.5 383.0 247.2 383.9 247.7 383.2C248.3 382.5 248.1 379.4 248.8 377.9C249.5 376.3 250.5 374.1 252.0 373.6C253.5 373.1 256.4 374.3 258.4 374.7C260.4 375.0 262.4 375.2 264.8 375.7C267.2 376.2 270.6 377.2 273.3 377.9C276.1 378.5 279.8 379.9 281.9 380.0C283.9 380.1 285.2 378.3 286.1 378.5C287.1 378.7 288.2 380.3 287.8 381.1C287.5 381.8 283.6 382.5 284.0 383.2C284.4 383.9 287.8 384.7 290.4 385.3C293.0 386.0 298.5 387.1 300.0 387.5 M216.8 300.0C217.1 300.7 217.9 303.1 218.9 304.3C220.0 305.5 222.2 307.5 223.2 307.5C224.2 307.5 225.2 305.5 225.3 304.3C225.5 303.1 224.4 300.7 224.3 300.0 M205.1 327.7C206.1 327.2 209.2 325.0 211.5 324.5C213.7 324.0 216.7 324.0 218.9 324.5C221.2 325.0 223.5 326.5 225.3 327.7C227.2 328.9 228.8 330.6 230.7 332.0C232.5 333.4 235.4 335.1 237.1 336.3C238.8 337.5 241.3 339.0 241.3 339.5C241.3 340.0 238.8 339.8 237.1 339.5C235.4 339.1 232.7 338.4 230.7 337.3C228.6 336.3 226.3 334.3 224.3 333.1C222.2 331.9 219.9 330.5 217.9 329.9C215.8 329.2 213.5 329.1 211.5 328.8C209.4 328.5 206.1 327.9 205.1 327.7 M240.9 344.8C241.7 344.3 244.0 342.6 245.6 341.6C247.2 340.6 249.2 339.0 250.9 338.8C252.6 338.7 254.7 339.9 256.3 340.5C257.8 341.1 260.5 342.0 260.5 342.7C260.5 343.3 257.8 344.3 256.3 344.8C254.7 345.3 252.6 345.5 250.9 345.9C249.2 346.2 247.2 347.1 245.6 346.9C244.0 346.8 241.7 345.1 240.9 344.8 M266.9 344.4C267.4 344.2 269.2 343.0 270.1 343.1C271.1 343.2 272.9 344.2 272.9 344.8C272.9 345.4 271.1 347.0 270.1 346.9C269.2 346.9 267.4 344.8 266.9 344.4 M245.2 382.1C244.9 383.0 243.1 385.9 243.5 387.5C243.9 389.0 246.0 390.7 247.7 391.7C249.4 392.8 252.3 393.0 254.1 393.9C256.0 394.7 258.3 395.7 259.5 397.1C260.7 398.4 261.4 400.5 261.6 402.4C261.8 404.3 260.4 406.9 260.5 408.8C260.7 410.7 261.5 413.1 262.7 414.1C263.9 415.2 266.3 415.4 268.0 415.2C269.7 415.0 271.8 414.1 273.3 413.1C274.9 412.0 276.2 409.8 277.6 408.8C279.0 407.8 280.5 407.2 281.9 406.7C283.2 406.2 284.8 405.9 286.1 405.6C287.5 405.3 289.5 405.7 290.4 404.5C291.3 403.3 291.6 400.2 291.5 398.1C291.3 396.1 289.5 393.8 289.3 391.7C289.2 389.7 290.2 386.4 290.4 385.3 M291.5 398.1C292.3 398.5 295.4 399.6 296.8 400.3C298.2 400.9 299.5 402.1 300.0 402.4 M273.3 413.1 L273.3 419.5 M222.1 408.8C223.2 409.1 226.5 409.7 228.5 410.9C230.6 412.1 232.9 415.6 234.9 416.3C237.0 416.9 239.3 415.0 241.3 415.2C243.4 415.4 245.7 417.2 247.7 417.3C249.8 417.5 252.1 416.3 254.1 416.3C256.2 416.3 259.2 417.7 260.5 417.3C261.9 417.0 262.3 414.6 262.7 414.1 M214.7 421.6C215.3 422.1 217.4 424.1 218.9 424.8C220.5 425.5 222.4 425.2 224.3 425.9C226.1 426.5 229.0 428.1 230.7 429.1C232.4 430.1 234.3 431.6 234.9 432.1 M176.3 349.1C177.1 348.9 179.7 348.0 181.6 348.0C183.5 348.0 187.0 348.9 188.0 349.1 M179.5 361.9C180.5 361.4 184.5 359.6 185.9 358.7C187.2 357.7 187.7 356.3 188.0 355.9 M192.3 372.5C192.9 371.9 194.8 368.3 196.5 368.3C198.2 368.3 201.9 371.9 202.9 372.5 M285.3 380.0C286.0 381.0 288.1 384.9 289.6 386.4C291.1 387.9 293.2 388.1 294.9 389.6C296.6 391.1 298.4 394.6 300.3 396.0C302.1 397.4 304.3 397.6 306.7 398.1C309.1 398.6 312.8 398.2 315.2 399.2C317.6 400.2 320.1 402.5 321.6 404.5C323.1 406.6 323.8 409.6 324.8 412.0C325.8 414.4 326.6 417.2 328.0 419.5C329.4 421.7 331.3 424.2 333.3 425.9C335.4 427.6 338.2 428.9 340.8 430.1C343.4 431.3 346.6 432.5 349.3 433.3C352.1 434.1 355.6 434.7 357.9 435.0C360.1 435.4 362.3 435.4 363.2 435.5 M242.7 386.4C243.3 387.4 244.9 391.1 246.9 392.8C249.0 394.5 253.2 395.4 255.5 397.1C257.7 398.8 259.8 401.1 260.8 403.5C261.8 405.9 262.4 410.1 261.9 412.0C261.4 413.9 259.1 414.5 257.6 415.2C256.1 415.9 253.3 415.1 252.3 416.3C251.2 417.5 251.0 420.4 251.2 422.7C251.4 424.9 253.2 427.9 253.3 430.1C253.5 432.4 252.4 435.5 252.3 436.5 M261.9 412.0C262.9 413.2 266.4 419.0 268.3 419.5C270.1 420.0 272.7 417.1 273.6 415.2C274.5 413.3 272.4 409.4 273.6 407.7C274.8 406.0 279.0 405.7 281.1 404.5C283.1 403.3 285.2 402.1 286.4 400.3C287.6 398.4 287.7 394.8 288.5 392.8C289.4 390.8 291.6 386.4 291.7 387.5C291.9 388.5 289.6 395.6 289.6 399.2C289.6 402.8 290.9 407.0 291.7 409.9C292.6 412.8 293.7 416.5 294.9 417.3C296.1 418.2 297.7 416.1 299.2 415.2C300.7 414.3 302.7 412.7 304.5 412.0C306.4 411.3 309.1 410.9 310.9 410.9C312.8 410.9 314.6 413.0 316.3 412.0C318.0 411.0 320.7 405.7 321.6 404.5 M300.3 396.0C299.9 397.2 298.0 401.2 298.1 403.5C298.3 405.7 300.3 408.5 301.3 409.9C302.4 411.2 304.0 411.7 304.5 412.0 M310.9 398.1C311.1 399.3 312.0 403.6 312.0 405.6C312.0 407.6 311.1 410.1 310.9 410.9 M266.1 464.3C266.8 465.1 269.0 467.7 270.4 469.6C271.8 471.5 272.8 474.3 274.7 476.0C276.5 477.7 279.9 479.1 282.1 480.3C284.4 481.5 287.2 481.9 288.5 483.5C289.9 485.0 289.5 488.3 290.7 489.9C291.9 491.4 294.6 491.5 296.0 493.1C297.4 494.6 298.5 497.4 299.2 499.5C299.9 501.5 300.3 503.9 300.3 505.9C300.3 507.9 299.4 511.1 299.2 512.1 M285.3 512.1C285.7 511.2 286.1 507.9 287.5 506.9C288.8 505.9 292.0 506.0 293.9 505.9C295.7 505.7 298.3 505.9 299.2 505.9 M256.5 514.9C256.7 516.6 257.5 522.2 257.6 525.6C257.7 529.0 257.1 532.9 257.2 536.3C257.2 539.7 257.6 543.5 258.0 546.9C258.4 550.3 259.3 554.2 259.7 557.6C260.2 561.0 260.8 565.2 260.8 568.3C260.8 571.3 259.6 574.1 259.7 576.8C259.9 579.5 261.2 582.6 261.9 585.3C262.5 588.1 263.1 591.1 264.0 593.9C264.9 596.6 266.2 599.7 267.2 602.4C268.2 605.1 269.4 608.2 270.4 610.9C271.4 613.7 272.7 616.7 273.6 619.5C274.5 622.2 275.2 625.7 275.7 628.0C276.3 630.3 277.0 633.0 277.2 634.0 M264.0 514.9C264.3 516.0 266.0 518.9 266.1 521.3C266.3 523.7 265.4 527.1 265.1 529.9C264.7 532.6 264.3 535.7 264.0 538.4C263.7 541.1 262.9 544.2 262.9 546.9C262.9 549.7 263.5 552.7 264.0 555.5C264.5 558.2 265.6 561.3 266.1 564.0C266.6 566.7 266.9 569.8 267.2 572.5C267.5 575.3 267.8 578.3 268.3 581.1C268.8 583.8 269.7 586.9 270.4 589.6C271.1 592.3 271.9 595.4 272.5 598.1C273.2 600.9 274.0 603.9 274.7 606.7C275.3 609.4 276.1 612.5 276.8 615.2C277.5 617.9 278.4 620.7 278.9 623.7C279.4 626.7 279.8 632.3 280.0 634.0 M264.0 514.9C264.7 515.4 266.7 517.8 268.3 518.1C269.8 518.5 271.9 516.9 273.6 517.1C275.3 517.2 277.2 519.0 278.9 519.2C280.6 519.4 283.4 518.3 284.3 518.1 M285.3 511.7C285.7 511.1 286.3 508.5 287.5 507.5C288.7 506.4 290.9 505.5 292.8 505.3C294.7 505.2 297.8 505.4 299.2 506.4C300.6 507.4 300.5 510.2 301.3 511.7C302.2 513.3 303.2 514.8 304.5 516.0C305.9 517.2 308.2 518.2 309.9 519.2C311.6 520.2 314.0 521.0 315.2 522.4C316.4 523.8 317.2 525.9 317.3 527.7C317.5 529.6 316.9 532.4 316.3 534.1C315.6 535.8 314.4 537.5 313.1 538.4C311.7 539.3 309.1 539.6 307.7 539.5C306.4 539.3 305.2 538.5 304.5 537.3C303.9 536.1 303.5 533.5 303.5 532.0C303.5 530.5 305.0 528.9 304.5 527.7C304.0 526.5 302.0 525.2 300.3 524.5C298.6 523.9 295.7 524.1 293.9 523.5C292.0 522.8 289.9 521.5 288.5 520.3C287.2 519.1 285.8 517.4 285.3 516.0C284.8 514.6 285.3 512.4 285.3 511.7 M317.3 527.7C317.7 528.8 319.0 532.3 319.5 534.1C320.0 536.0 321.0 537.9 320.5 539.5C320.0 541.0 317.6 542.4 316.3 543.7C314.9 545.1 313.0 546.6 312.0 548.0C311.0 549.4 310.4 550.6 309.9 552.3C309.4 554.0 309.1 556.6 308.8 558.7C308.5 560.7 307.7 563.4 307.7 565.1C307.7 566.8 308.1 568.0 308.8 569.3C309.5 570.7 311.0 572.2 312.0 573.6C313.0 575.0 314.5 576.5 315.2 577.9C315.9 579.2 316.6 580.8 316.3 582.1C315.9 583.5 314.4 585.5 313.1 586.4C311.7 587.3 309.4 587.1 307.7 587.5C306.0 587.8 303.6 587.7 302.4 588.5C301.2 589.4 300.8 591.4 300.3 592.8C299.8 594.2 300.2 596.2 299.2 597.1C298.2 597.9 294.9 597.5 293.9 598.1C292.8 598.8 292.3 600.7 292.8 601.3C293.3 602.0 295.9 601.9 297.1 602.4C298.3 602.9 300.3 603.9 300.3 604.5C300.3 605.2 297.4 605.5 297.1 606.7C296.7 607.9 298.3 610.3 298.1 612.0C298.0 613.7 296.7 615.6 296.0 617.3C295.3 619.0 293.7 621.6 293.9 622.7C294.0 623.7 296.0 623.1 297.1 623.7C298.1 624.4 300.1 625.7 300.3 626.9C300.4 628.1 298.6 630.1 298.1 631.2C297.6 632.3 297.2 633.5 297.1 634.0 M309.9 552.3C310.7 552.6 313.5 553.5 315.2 554.4C316.9 555.3 318.8 556.4 320.5 557.6C322.2 558.8 324.7 560.7 325.9 561.9C327.1 563.1 328.0 563.9 328.0 565.1C328.0 566.3 326.9 568.3 325.9 569.3C324.8 570.4 323.1 571.1 321.6 571.5C320.1 571.8 318.0 571.6 316.3 571.5C314.6 571.3 312.1 570.7 310.9 570.4C309.7 570.1 309.1 569.5 308.8 569.3 M365.3 516.0C364.5 516.7 362.0 519.1 360.0 520.3C358.0 521.5 354.9 522.4 352.5 523.5C350.1 524.5 347.1 525.6 345.1 526.7C343.0 527.7 340.9 528.5 339.7 529.9C338.5 531.2 337.8 533.3 337.6 535.2C337.4 537.1 338.7 539.6 338.7 541.6C338.7 543.6 338.1 546.1 337.6 548.0C337.1 549.9 336.3 551.8 335.5 553.3C334.6 554.9 333.3 556.2 332.3 557.6C331.2 559.0 329.7 560.7 329.1 561.9C328.4 563.1 328.2 564.6 328.0 565.1 M511.7 270.0C511.5 270.9 511.3 273.8 510.5 275.9C509.8 278.0 508.5 280.9 507.0 283.0C505.4 285.1 503.1 287.2 501.0 288.9C499.0 290.6 496.2 292.4 493.9 293.7C491.7 295.0 488.9 296.1 486.8 297.2C484.7 298.4 483.0 299.6 480.9 300.8C478.8 301.9 475.7 303.4 473.8 304.3C471.9 305.3 470.1 306.1 469.1 306.7C468.0 307.3 468.0 306.8 467.4 307.9C466.8 309.0 466.6 311.7 465.5 313.8C464.5 315.9 462.1 318.8 460.8 320.9C459.5 323.0 458.4 325.1 457.2 326.8C456.1 328.5 453.9 330.2 453.7 331.6C453.5 332.9 455.1 333.6 456.0 335.1C457.0 336.6 458.9 339.0 459.6 341.0C460.3 343.1 460.2 347.0 460.3 348.1 M469.1 306.7C470.4 306.6 474.7 306.2 477.4 306.0C480.0 305.8 484.3 305.0 485.6 305.5C487.0 306.0 484.3 307.2 485.6 309.1C487.0 311.0 492.4 314.5 493.9 317.4C495.5 320.2 495.0 323.4 495.1 326.8C495.2 330.2 494.5 334.3 494.4 338.7C494.3 343.0 495.9 351.4 494.6 354.1C493.4 356.7 489.6 354.9 486.8 355.2C484.1 355.6 479.6 356.1 477.4 356.4C475.1 356.8 473.6 356.3 472.6 357.6C471.7 358.9 471.4 362.4 471.4 364.7C471.4 367.0 471.9 369.9 472.6 371.8C473.4 373.7 474.8 376.2 476.2 376.6C477.5 376.9 479.4 373.8 480.9 374.2C482.4 374.6 484.3 378.4 485.6 378.9C487.0 379.5 488.1 377.4 489.2 377.7C490.3 378.1 491.6 381.5 492.8 381.3C493.9 381.1 495.0 378.1 496.3 376.6C497.6 375.0 499.5 373.3 501.0 371.8C502.6 370.3 504.1 368.4 505.8 367.1C507.5 365.8 509.6 364.7 511.7 363.5C513.8 362.4 516.7 360.9 518.8 360.0C520.9 359.0 522.8 359.1 524.7 357.6C526.6 356.1 529.5 353.0 530.6 350.5C531.8 348.0 532.0 343.7 531.8 342.2C531.6 340.7 528.3 341.8 529.5 341.0C530.6 340.3 536.3 339.0 538.9 337.5C541.6 336.0 543.9 333.7 546.0 331.6C548.1 329.5 550.4 326.5 552.0 324.5C553.5 322.4 554.3 320.1 555.5 318.5C556.8 317.0 559.1 315.6 559.8 315.0 M485.6 309.1C487.4 310.2 493.1 314.1 496.3 316.2C499.5 318.3 502.7 320.0 505.8 322.1C508.8 324.2 512.4 326.9 515.2 329.2C518.1 331.5 521.3 334.4 523.5 336.3C525.8 338.2 528.5 340.3 529.5 341.0 M498.7 270.0C498.1 271.1 496.4 274.8 495.1 277.1C493.8 279.4 491.9 282.1 490.4 284.2C488.9 286.3 486.4 286.7 485.6 290.1C484.9 293.5 485.6 303.1 485.6 305.5 M453.7 331.6C454.8 331.4 458.5 330.8 460.8 330.4C463.1 330.0 466.2 330.0 467.9 329.2C469.6 328.4 470.7 327.5 471.4 325.6C472.2 323.8 472.2 319.4 472.6 317.4C473.0 315.3 473.6 313.4 473.8 312.6 M485.6 378.9C485.8 380.1 486.8 383.8 486.8 386.0C486.8 388.3 485.5 390.9 485.6 393.1C485.8 395.4 487.4 398.5 488.0 400.2C488.6 401.9 489.0 403.2 489.2 403.8 M496.3 376.6C496.7 377.7 497.5 381.8 498.7 383.7C499.8 385.6 502.5 386.5 503.4 388.4C504.4 390.3 503.8 393.8 504.6 395.5C505.3 397.2 506.4 398.7 508.1 399.1C509.8 399.4 513.2 398.4 515.2 397.9C517.3 397.3 520.2 395.9 521.2 395.5 M518.8 360.0C519.2 361.1 521.0 364.8 521.2 367.1C521.4 369.4 519.6 372.3 520.0 374.2C520.4 376.1 522.8 376.7 523.5 378.9C524.3 381.2 524.2 385.7 524.7 388.4C525.3 391.1 526.0 393.6 527.1 395.5C528.2 397.4 529.9 398.9 531.8 400.2C533.7 401.6 536.7 403.0 538.9 403.8C541.2 404.5 543.8 405.2 546.0 405.0C548.3 404.8 550.9 403.2 553.1 402.6C555.3 402.0 558.7 401.6 559.8 401.4 M523.5 374.2C524.5 373.1 527.4 368.6 529.5 367.1C531.5 365.6 534.3 364.9 536.6 364.7C538.8 364.5 541.4 365.5 543.7 365.9C545.9 366.3 548.2 367.1 550.8 367.1C553.3 367.1 558.3 366.1 559.8 365.9 M504.6 374.2C505.7 374.4 509.4 375.4 511.7 375.4C514.0 375.4 517.7 374.4 518.8 374.2"/>
</svg>
<div id="lp" class="abs"></div>
<div id="chart" class="abs"></div>
<i class="gl" style="top:323.0px"></i>
<i class="gl" style="top:354.8px"></i>
<i class="gl" style="top:386.6px"></i>
<i class="gl" style="top:418.4px"></i>
<i class="gl" style="top:450.2px"></i>
<i class="gl" style="top:482.0px"></i>
<i class="gl" style="top:513.8px"></i>
<div id="b1" class="abs"></div><div id="b2" class="abs"></div>
<div id="cres" class="abs"></div>
<div id="rp" class="abs"></div><div id="rpb" class="abs"></div>
<div id="circ" class="abs"></div>
<svg class="abs" style="left:893px;top:77px" width="34" height="32" viewBox="893 77 34 32">
<path d="M897.5 104.3 L899.1 96.8 A11.4 11.4 0 1 1 905.5 103.5 Z" fill="none" stroke="#5a7183" stroke-width="3.3" stroke-linejoin="round"/>
<rect x="903" y="93" width="2.7" height="8.6" fill="#1fb0d6"/>
<rect x="908.1" y="89.1" width="2.9" height="13.6" fill="#1fb0d6"/>
<rect x="913.7" y="83.6" width="2.8" height="19.6" fill="#5a7183"/>
</svg>
<i class="bu" style="top:289.7px"></i>
<i class="bu" style="top:314.2px"></i>
<i class="bu" style="top:363.3px"></i>
<i class="bu" style="top:388.0px"></i>
<i class="bu" style="top:436.9px"></i>
<i class="bu" style="top:486.2px"></i>
<span class="t" style="left:106.97px;top:58.6px;font-size:38px;line-height:38px;font-weight:700;font-style:italic;color:#404040;transform:scaleX(1.0163);">Ceramic</span>
<span class="t" style="left:270.29px;top:58.6px;font-size:38px;line-height:38px;font-weight:700;font-style:italic;color:#404040;transform:scaleX(0.9062);">Substrates</span>
<span class="t" style="left:458.51px;top:58.6px;font-size:38px;line-height:38px;font-weight:700;font-style:italic;color:#404040;transform:scaleX(0.9935);">Market</span>
<span class="t" style="left:594.55px;top:58.6px;font-size:38px;line-height:38px;font-weight:700;font-style:italic;color:#404040;transform:scaleX(0.9541);">2024</span>
<span class="t" style="left:680.94px;top:58.6px;font-size:38px;line-height:38px;font-weight:700;font-style:italic;color:#404040;transform:scaleX(1.0303);">to</span>
<span class="t" style="left:730.62px;top:58.6px;font-size:38px;line-height:38px;font-weight:700;font-style:italic;color:#404040;transform:scaleX(0.9212);">2032</span>
<span class="t" style="left:173.22px;top:190px;font-size:17.2px;line-height:17.2px;color:#262626;transform:scaleX(0.9791);">Global Market Size, 2024 and 2032</span>
<span class="t" style="left:253.11px;top:214px;font-size:17.2px;line-height:17.2px;font-weight:700;color:#111;transform:scaleX(0.9932);">(USD Billion)</span>
<span class="t" style="left:209.9px;top:409.9px;font-size:16px;line-height:16px;color:#333;transform:scaleX(1.0952);">8.8</span>
<span class="t" style="left:383.6px;top:330.8px;font-size:16px;line-height:16px;color:#333;">18.58</span>
<span class="t" style="left:202.27px;top:524.9px;font-size:14.8px;line-height:14.8px;color:#555;transform:scaleX(0.925);">2024</span>
<span class="t" style="left:397.05px;top:524.9px;font-size:14.8px;line-height:14.8px;color:#555;transform:scaleX(0.9548);">2032</span>
<span class="t" style="left:815.94px;top:234.1px;font-size:18.6px;line-height:18.6px;font-weight:700;color:#111;transform:scaleX(1.0612);">Market Segments</span>
<span class="t" style="left:815.9px;top:258.8px;font-size:18.6px;line-height:18.6px;font-weight:700;color:#111;transform:scaleX(1.099);">Based on Product Type:</span>
<span class="t" style="left:842.6px;top:281.3px;font-size:20.4px;line-height:20.4px;color:#1a1a1a;transform:scaleX(1.0662);">Alumina</span>
<span class="t" style="left:842.6px;top:305.8px;font-size:20.4px;line-height:20.4px;color:#1a1a1a;transform:scaleX(1.0954);">Aluminum nitride</span>
<span class="t" style="left:815.92px;top:332.3px;font-size:18.6px;line-height:18.6px;font-weight:700;color:#111;transform:scaleX(1.0827);">Based on Form:</span>
<span class="t" style="left:841.43px;top:354.9px;font-size:20.4px;line-height:20.4px;color:#1a1a1a;transform:scaleX(1.0352);">Plates</span>
<span class="t" style="left:841.58px;top:379.6px;font-size:20.4px;line-height:20.4px;color:#1a1a1a;transform:scaleX(1.0161);">Sheets</span>
<span class="t" style="left:815.93px;top:405.8px;font-size:18.6px;line-height:18.6px;font-weight:700;color:#111;transform:scaleX(1.0684);">Based on End User:</span>
<span class="t" style="left:841.21px;top:428.5px;font-size:20.4px;line-height:20.4px;color:#1a1a1a;transform:scaleX(1.086);">Consumer</span>
<span class="t" style="left:841.18px;top:453.1px;font-size:20.4px;line-height:20.4px;color:#1a1a1a;transform:scaleX(1.124);">electronics</span>
<span class="t" style="left:842.8px;top:477.8px;font-size:20.4px;line-height:20.4px;color:#1a1a1a;transform:scaleX(1.1294);">Aerospace and</span>
<span class="t" style="left:841.18px;top:502.6px;font-size:20.4px;line-height:20.4px;color:#1a1a1a;transform:scaleX(1.1197);">defense</span>
<span class="t" style="left:623.53px;top:360.4px;font-size:28px;line-height:28px;font-weight:700;color:#fff;transform:scaleX(0.9704);">CAGR</span>
<span class="t" style="left:633.04px;top:393.9px;font-size:28px;line-height:28px;font-weight:700;color:#fff;transform:scaleX(0.9613);">9.8%</span>
<span class="t" style="left:926.93px;top:80.5px;font-size:17px;line-height:17px;color:#3db1cf;transform:scaleX(0.9722);">Credence</span>
<span class="t" style="left:1002.65px;top:80.5px;font-size:17px;line-height:17px;color:#66788a;transform:scaleX(0.9521);">Research</span>
<span class="t" style="left:927.6px;top:99.8px;font-size:5.6px;line-height:5.6px;font-weight:700;letter-spacing:2.2px;color:#555;transform:scaleX(1.0214);">Actionable Insights Delivered</span>
<div id="dot" class="abs"></div>
</body></html>
